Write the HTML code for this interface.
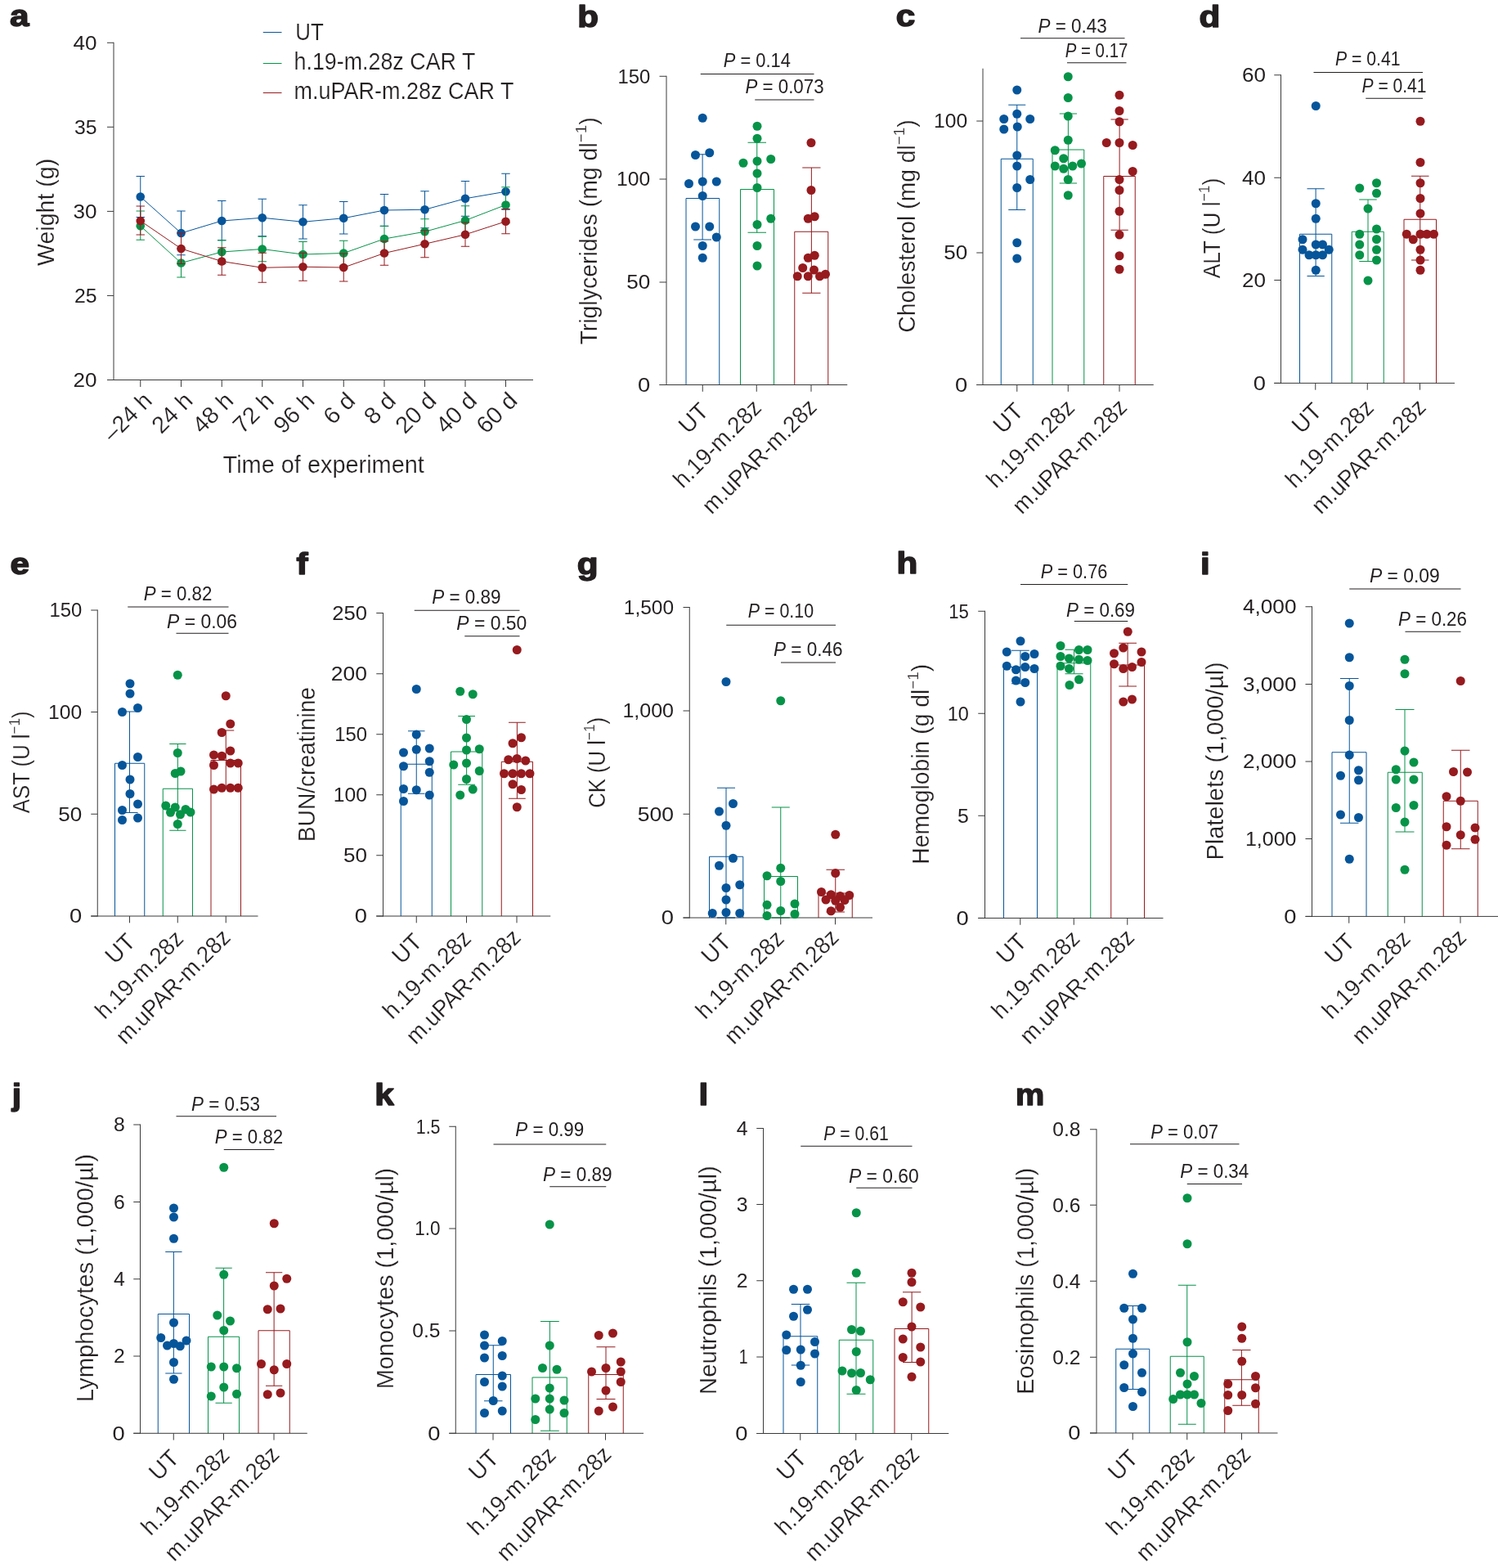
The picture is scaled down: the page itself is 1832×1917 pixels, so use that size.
<!DOCTYPE html>
<html lang="en">
<head>
<meta charset="utf-8">
<title>Figure</title>
<style>
html,body{margin:0;padding:0;background:#fff;}
body{width:1832px;height:1917px;overflow:hidden;}
svg{display:block;font-family:"Liberation Sans", sans-serif;fill:#231f20;}
svg text{white-space:pre;}
svg text.t{stroke:#fff;stroke-width:0.22px;paint-order:fill stroke;}
</style>
</head>
<body>
<svg width="1832" height="1917" viewBox="0 0 1832 1917">
<rect x="0" y="0" width="1832" height="1917" fill="#ffffff"/>
<line x1="171.75" y1="215.5" x2="171.75" y2="265.5" stroke="#06559a" stroke-width="1"/>
<line x1="166.55" y1="215.5" x2="176.95" y2="215.5" stroke="#06559a" stroke-width="1"/>
<line x1="166.55" y1="265.5" x2="176.95" y2="265.5" stroke="#06559a" stroke-width="1"/>
<line x1="221.5" y1="258" x2="221.5" y2="311.75" stroke="#06559a" stroke-width="1"/>
<line x1="216.3" y1="258" x2="226.7" y2="258" stroke="#06559a" stroke-width="1"/>
<line x1="216.3" y1="311.75" x2="226.7" y2="311.75" stroke="#06559a" stroke-width="1"/>
<line x1="271.25" y1="245.5" x2="271.25" y2="293.75" stroke="#06559a" stroke-width="1"/>
<line x1="266.05" y1="245.5" x2="276.45" y2="245.5" stroke="#06559a" stroke-width="1"/>
<line x1="266.05" y1="293.75" x2="276.45" y2="293.75" stroke="#06559a" stroke-width="1"/>
<line x1="320.75" y1="243.25" x2="320.75" y2="288.75" stroke="#06559a" stroke-width="1"/>
<line x1="315.55" y1="243.25" x2="325.95" y2="243.25" stroke="#06559a" stroke-width="1"/>
<line x1="315.55" y1="288.75" x2="325.95" y2="288.75" stroke="#06559a" stroke-width="1"/>
<line x1="370.5" y1="250.75" x2="370.5" y2="292" stroke="#06559a" stroke-width="1"/>
<line x1="365.3" y1="250.75" x2="375.7" y2="250.75" stroke="#06559a" stroke-width="1"/>
<line x1="365.3" y1="292" x2="375.7" y2="292" stroke="#06559a" stroke-width="1"/>
<line x1="420.25" y1="246.5" x2="420.25" y2="286" stroke="#06559a" stroke-width="1"/>
<line x1="415.05" y1="246.5" x2="425.45" y2="246.5" stroke="#06559a" stroke-width="1"/>
<line x1="415.05" y1="286" x2="425.45" y2="286" stroke="#06559a" stroke-width="1"/>
<line x1="470" y1="237.5" x2="470" y2="276.5" stroke="#06559a" stroke-width="1"/>
<line x1="464.8" y1="237.5" x2="475.2" y2="237.5" stroke="#06559a" stroke-width="1"/>
<line x1="464.8" y1="276.5" x2="475.2" y2="276.5" stroke="#06559a" stroke-width="1"/>
<line x1="519.5" y1="233.75" x2="519.5" y2="278.75" stroke="#06559a" stroke-width="1"/>
<line x1="514.3" y1="233.75" x2="524.7" y2="233.75" stroke="#06559a" stroke-width="1"/>
<line x1="514.3" y1="278.75" x2="524.7" y2="278.75" stroke="#06559a" stroke-width="1"/>
<line x1="569" y1="221.5" x2="569" y2="264.25" stroke="#06559a" stroke-width="1"/>
<line x1="563.8" y1="221.5" x2="574.2" y2="221.5" stroke="#06559a" stroke-width="1"/>
<line x1="563.8" y1="264.25" x2="574.2" y2="264.25" stroke="#06559a" stroke-width="1"/>
<line x1="618.5" y1="212.25" x2="618.5" y2="256.25" stroke="#06559a" stroke-width="1"/>
<line x1="613.3" y1="212.25" x2="623.7" y2="212.25" stroke="#06559a" stroke-width="1"/>
<line x1="613.3" y1="256.25" x2="623.7" y2="256.25" stroke="#06559a" stroke-width="1"/>
<polyline points="171.75,240.5 221.5,285 271.25,270 320.75,266.25 370.5,271.25 420.25,266.75 470,257 519.5,256.25 569,242.75 618.5,234.25" fill="none" stroke="#06559a" stroke-width="1"/>
<circle cx="171.75" cy="240.5" r="5.3" fill="#06559a"/>
<circle cx="221.5" cy="285" r="5.3" fill="#06559a"/>
<circle cx="271.25" cy="270" r="5.3" fill="#06559a"/>
<circle cx="320.75" cy="266.25" r="5.3" fill="#06559a"/>
<circle cx="370.5" cy="271.25" r="5.3" fill="#06559a"/>
<circle cx="420.25" cy="266.75" r="5.3" fill="#06559a"/>
<circle cx="470" cy="257" r="5.3" fill="#06559a"/>
<circle cx="519.5" cy="256.25" r="5.3" fill="#06559a"/>
<circle cx="569" cy="242.75" r="5.3" fill="#06559a"/>
<circle cx="618.5" cy="234.25" r="5.3" fill="#06559a"/>
<line x1="171.75" y1="258" x2="171.75" y2="293.25" stroke="#069348" stroke-width="1"/>
<line x1="166.55" y1="258" x2="176.95" y2="258" stroke="#069348" stroke-width="1"/>
<line x1="166.55" y1="293.25" x2="176.95" y2="293.25" stroke="#069348" stroke-width="1"/>
<line x1="221.5" y1="303.75" x2="221.5" y2="339" stroke="#069348" stroke-width="1"/>
<line x1="216.3" y1="303.75" x2="226.7" y2="303.75" stroke="#069348" stroke-width="1"/>
<line x1="216.3" y1="339" x2="226.7" y2="339" stroke="#069348" stroke-width="1"/>
<line x1="271.25" y1="293.75" x2="271.25" y2="322.5" stroke="#069348" stroke-width="1"/>
<line x1="266.05" y1="293.75" x2="276.45" y2="293.75" stroke="#069348" stroke-width="1"/>
<line x1="266.05" y1="322.5" x2="276.45" y2="322.5" stroke="#069348" stroke-width="1"/>
<line x1="320.75" y1="289.25" x2="320.75" y2="319.75" stroke="#069348" stroke-width="1"/>
<line x1="315.55" y1="289.25" x2="325.95" y2="289.25" stroke="#069348" stroke-width="1"/>
<line x1="315.55" y1="319.75" x2="325.95" y2="319.75" stroke="#069348" stroke-width="1"/>
<line x1="370.5" y1="295.5" x2="370.5" y2="326.25" stroke="#069348" stroke-width="1"/>
<line x1="365.3" y1="295.5" x2="375.7" y2="295.5" stroke="#069348" stroke-width="1"/>
<line x1="365.3" y1="326.25" x2="375.7" y2="326.25" stroke="#069348" stroke-width="1"/>
<line x1="420.25" y1="294.25" x2="420.25" y2="325" stroke="#069348" stroke-width="1"/>
<line x1="415.05" y1="294.25" x2="425.45" y2="294.25" stroke="#069348" stroke-width="1"/>
<line x1="415.05" y1="325" x2="425.45" y2="325" stroke="#069348" stroke-width="1"/>
<line x1="470" y1="276.25" x2="470" y2="308" stroke="#069348" stroke-width="1"/>
<line x1="464.8" y1="276.25" x2="475.2" y2="276.25" stroke="#069348" stroke-width="1"/>
<line x1="464.8" y1="308" x2="475.2" y2="308" stroke="#069348" stroke-width="1"/>
<line x1="519.5" y1="267.75" x2="519.5" y2="298.75" stroke="#069348" stroke-width="1"/>
<line x1="514.3" y1="267.75" x2="524.7" y2="267.75" stroke="#069348" stroke-width="1"/>
<line x1="514.3" y1="298.75" x2="524.7" y2="298.75" stroke="#069348" stroke-width="1"/>
<line x1="569" y1="251.75" x2="569" y2="287.5" stroke="#069348" stroke-width="1"/>
<line x1="563.8" y1="251.75" x2="574.2" y2="251.75" stroke="#069348" stroke-width="1"/>
<line x1="563.8" y1="287.5" x2="574.2" y2="287.5" stroke="#069348" stroke-width="1"/>
<line x1="618.5" y1="228.75" x2="618.5" y2="272.5" stroke="#069348" stroke-width="1"/>
<line x1="613.3" y1="228.75" x2="623.7" y2="228.75" stroke="#069348" stroke-width="1"/>
<line x1="613.3" y1="272.5" x2="623.7" y2="272.5" stroke="#069348" stroke-width="1"/>
<polyline points="171.75,276.25 221.5,321.5 271.25,308 320.75,304.5 370.5,311 420.25,309.5 470,292 519.5,283.25 569,269.5 618.5,250.5" fill="none" stroke="#069348" stroke-width="1"/>
<circle cx="171.75" cy="276.25" r="5.3" fill="#069348"/>
<circle cx="221.5" cy="321.5" r="5.3" fill="#069348"/>
<circle cx="271.25" cy="308" r="5.3" fill="#069348"/>
<circle cx="320.75" cy="304.5" r="5.3" fill="#069348"/>
<circle cx="370.5" cy="311" r="5.3" fill="#069348"/>
<circle cx="420.25" cy="309.5" r="5.3" fill="#069348"/>
<circle cx="470" cy="292" r="5.3" fill="#069348"/>
<circle cx="519.5" cy="283.25" r="5.3" fill="#069348"/>
<circle cx="569" cy="269.5" r="5.3" fill="#069348"/>
<circle cx="618.5" cy="250.5" r="5.3" fill="#069348"/>
<line x1="171.75" y1="252" x2="171.75" y2="287" stroke="#961a1e" stroke-width="1"/>
<line x1="166.55" y1="252" x2="176.95" y2="252" stroke="#961a1e" stroke-width="1"/>
<line x1="166.55" y1="287" x2="176.95" y2="287" stroke="#961a1e" stroke-width="1"/>
<line x1="221.5" y1="285" x2="221.5" y2="322.5" stroke="#961a1e" stroke-width="1"/>
<line x1="216.3" y1="285" x2="226.7" y2="285" stroke="#961a1e" stroke-width="1"/>
<line x1="216.3" y1="322.5" x2="226.7" y2="322.5" stroke="#961a1e" stroke-width="1"/>
<line x1="271.25" y1="302.75" x2="271.25" y2="336.25" stroke="#961a1e" stroke-width="1"/>
<line x1="266.05" y1="302.75" x2="276.45" y2="302.75" stroke="#961a1e" stroke-width="1"/>
<line x1="266.05" y1="336.25" x2="276.45" y2="336.25" stroke="#961a1e" stroke-width="1"/>
<line x1="320.75" y1="309.25" x2="320.75" y2="345.25" stroke="#961a1e" stroke-width="1"/>
<line x1="315.55" y1="309.25" x2="325.95" y2="309.25" stroke="#961a1e" stroke-width="1"/>
<line x1="315.55" y1="345.25" x2="325.95" y2="345.25" stroke="#961a1e" stroke-width="1"/>
<line x1="370.5" y1="309.25" x2="370.5" y2="343.25" stroke="#961a1e" stroke-width="1"/>
<line x1="365.3" y1="309.25" x2="375.7" y2="309.25" stroke="#961a1e" stroke-width="1"/>
<line x1="365.3" y1="343.25" x2="375.7" y2="343.25" stroke="#961a1e" stroke-width="1"/>
<line x1="420.25" y1="310" x2="420.25" y2="344" stroke="#961a1e" stroke-width="1"/>
<line x1="415.05" y1="310" x2="425.45" y2="310" stroke="#961a1e" stroke-width="1"/>
<line x1="415.05" y1="344" x2="425.45" y2="344" stroke="#961a1e" stroke-width="1"/>
<line x1="470" y1="295" x2="470" y2="324.25" stroke="#961a1e" stroke-width="1"/>
<line x1="464.8" y1="295" x2="475.2" y2="295" stroke="#961a1e" stroke-width="1"/>
<line x1="464.8" y1="324.25" x2="475.2" y2="324.25" stroke="#961a1e" stroke-width="1"/>
<line x1="519.5" y1="281.75" x2="519.5" y2="314.75" stroke="#961a1e" stroke-width="1"/>
<line x1="514.3" y1="281.75" x2="524.7" y2="281.75" stroke="#961a1e" stroke-width="1"/>
<line x1="514.3" y1="314.75" x2="524.7" y2="314.75" stroke="#961a1e" stroke-width="1"/>
<line x1="569" y1="272" x2="569" y2="301.25" stroke="#961a1e" stroke-width="1"/>
<line x1="563.8" y1="272" x2="574.2" y2="272" stroke="#961a1e" stroke-width="1"/>
<line x1="563.8" y1="301.25" x2="574.2" y2="301.25" stroke="#961a1e" stroke-width="1"/>
<line x1="618.5" y1="255.5" x2="618.5" y2="285.75" stroke="#961a1e" stroke-width="1"/>
<line x1="613.3" y1="255.5" x2="623.7" y2="255.5" stroke="#961a1e" stroke-width="1"/>
<line x1="613.3" y1="285.75" x2="623.7" y2="285.75" stroke="#961a1e" stroke-width="1"/>
<polyline points="171.75,270 221.5,304 271.25,319.5 320.75,327.25 370.5,326.25 420.25,327 470,309.5 519.5,298.25 569,286.75 618.5,270.75" fill="none" stroke="#961a1e" stroke-width="1"/>
<circle cx="171.75" cy="270" r="5.3" fill="#961a1e"/>
<circle cx="221.5" cy="304" r="5.3" fill="#961a1e"/>
<circle cx="271.25" cy="319.5" r="5.3" fill="#961a1e"/>
<circle cx="320.75" cy="327.25" r="5.3" fill="#961a1e"/>
<circle cx="370.5" cy="326.25" r="5.3" fill="#961a1e"/>
<circle cx="420.25" cy="327" r="5.3" fill="#961a1e"/>
<circle cx="470" cy="309.5" r="5.3" fill="#961a1e"/>
<circle cx="519.5" cy="298.25" r="5.3" fill="#961a1e"/>
<circle cx="569" cy="286.75" r="5.3" fill="#961a1e"/>
<circle cx="618.5" cy="270.75" r="5.3" fill="#961a1e"/>
<line x1="139" y1="51.75" x2="139" y2="465" stroke="#3a3a3a" stroke-width="1"/>
<line x1="131" y1="464.5" x2="652" y2="464.5" stroke="#3a3a3a" stroke-width="1"/>
<line x1="131" y1="52.25" x2="139" y2="52.25" stroke="#3a3a3a" stroke-width="1"/>
<text transform="translate(118.6 60.65) scale(1.0600 1)" font-size="24.6" text-anchor="end">40</text>
<line x1="131" y1="155.31" x2="139" y2="155.31" stroke="#3a3a3a" stroke-width="1"/>
<text transform="translate(118.6 163.71) scale(1.0088 1)" font-size="24.6" text-anchor="end">35</text>
<line x1="131" y1="258.38" x2="139" y2="258.38" stroke="#3a3a3a" stroke-width="1"/>
<text transform="translate(118.6 266.77) scale(1.0600 1)" font-size="24.6" text-anchor="end">30</text>
<line x1="131" y1="361.44" x2="139" y2="361.44" stroke="#3a3a3a" stroke-width="1"/>
<text transform="translate(118.6 369.84) scale(1.0088 1)" font-size="24.6" text-anchor="end">25</text>
<line x1="131" y1="464.5" x2="139" y2="464.5" stroke="#3a3a3a" stroke-width="1"/>
<text transform="translate(118.6 472.9) scale(1.0600 1)" font-size="24.6" text-anchor="end">20</text>
<line x1="171.75" y1="464.5" x2="171.75" y2="473" stroke="#3a3a3a" stroke-width="1"/>
<text transform="translate(187.55 491.6) rotate(-45) scale(0.9819 1)" font-size="28.7" text-anchor="end" class="t">–24 h</text>
<line x1="221.5" y1="464.5" x2="221.5" y2="473" stroke="#3a3a3a" stroke-width="1"/>
<text transform="translate(237.3 491.6) rotate(-45) scale(1.0118 1)" font-size="28.7" text-anchor="end" class="t">24 h</text>
<line x1="271.25" y1="464.5" x2="271.25" y2="473" stroke="#3a3a3a" stroke-width="1"/>
<text transform="translate(287.05 491.6) rotate(-45) scale(1.0118 1)" font-size="28.7" text-anchor="end" class="t">48 h</text>
<line x1="320.75" y1="464.5" x2="320.75" y2="473" stroke="#3a3a3a" stroke-width="1"/>
<text transform="translate(336.55 491.6) rotate(-45) scale(1.0118 1)" font-size="28.7" text-anchor="end" class="t">72 h</text>
<line x1="370.5" y1="464.5" x2="370.5" y2="473" stroke="#3a3a3a" stroke-width="1"/>
<text transform="translate(386.3 491.6) rotate(-45) scale(1.0118 1)" font-size="28.7" text-anchor="end" class="t">96 h</text>
<line x1="420.25" y1="464.5" x2="420.25" y2="473" stroke="#3a3a3a" stroke-width="1"/>
<text transform="translate(436.05 491.6) rotate(-45) scale(1.0278 1)" font-size="28.7" text-anchor="end" class="t">6 d</text>
<line x1="470" y1="464.5" x2="470" y2="473" stroke="#3a3a3a" stroke-width="1"/>
<text transform="translate(485.8 491.6) rotate(-45) scale(1.0278 1)" font-size="28.7" text-anchor="end" class="t">8 d</text>
<line x1="519.5" y1="464.5" x2="519.5" y2="473" stroke="#3a3a3a" stroke-width="1"/>
<text transform="translate(535.3 491.6) rotate(-45) scale(1.0118 1)" font-size="28.7" text-anchor="end" class="t">20 d</text>
<line x1="569" y1="464.5" x2="569" y2="473" stroke="#3a3a3a" stroke-width="1"/>
<text transform="translate(584.8 491.6) rotate(-45) scale(1.0118 1)" font-size="28.7" text-anchor="end" class="t">40 d</text>
<line x1="618.5" y1="464.5" x2="618.5" y2="473" stroke="#3a3a3a" stroke-width="1"/>
<text transform="translate(634.3 491.6) rotate(-45) scale(1.0118 1)" font-size="28.7" text-anchor="end" class="t">60 d</text>
<text transform="translate(66.25 259.4) rotate(-90) scale(0.9957 1)" font-size="28.7" text-anchor="middle" class="t">Weight (g)</text>
<text transform="translate(272.6 578.3) scale(1.0071 1)" font-size="28.7" text-anchor="start" class="t">Time of experiment</text>
<line x1="321.75" y1="39.5" x2="344.5" y2="39.5" stroke="#06559a" stroke-width="1"/>
<text transform="translate(361.3 49.3) scale(0.9020 1)" font-size="28.7" text-anchor="start" class="t">UT</text>
<line x1="321.75" y1="77.5" x2="344.5" y2="77.5" stroke="#069348" stroke-width="1"/>
<text transform="translate(359.5 84.5) scale(0.9357 1)" font-size="28.7" text-anchor="start" class="t">h.19-m.28z CAR T</text>
<line x1="321.75" y1="113.5" x2="344.5" y2="113.5" stroke="#961a1e" stroke-width="1"/>
<text transform="translate(359.5 120.7) scale(0.9410 1)" font-size="28.7" text-anchor="start" class="t">m.uPAR-m.28z CAR T</text>
<text transform="translate(11.9 31.9) scale(1.1400 1)" font-size="37" text-anchor="start" font-weight="700" stroke="#231f20" stroke-width="1.5" stroke-linejoin="round">a</text>
<polyline points="839,470.5 839,242.5 879.75,242.5 879.75,470.5" fill="none" stroke="#06559a" stroke-width="1"/>
<polyline points="905.5,470.5 905.5,231.5 946.5,231.5 946.5,470.5" fill="none" stroke="#069348" stroke-width="1"/>
<polyline points="971.75,470.5 971.75,283.25 1012.75,283.25 1012.75,470.5" fill="none" stroke="#961a1e" stroke-width="1"/>
<line x1="859.12" y1="188.75" x2="859.12" y2="293" stroke="#06559a" stroke-width="1"/>
<line x1="848.25" y1="188.75" x2="870" y2="188.75" stroke="#06559a" stroke-width="1"/>
<line x1="848.25" y1="293" x2="870" y2="293" stroke="#06559a" stroke-width="1"/>
<line x1="925.75" y1="174.25" x2="925.75" y2="284.25" stroke="#069348" stroke-width="1"/>
<line x1="914.5" y1="174.25" x2="937" y2="174.25" stroke="#069348" stroke-width="1"/>
<line x1="914.5" y1="284.25" x2="937" y2="284.25" stroke="#069348" stroke-width="1"/>
<line x1="992.38" y1="205" x2="992.38" y2="358.25" stroke="#961a1e" stroke-width="1"/>
<line x1="981.25" y1="205" x2="1003.5" y2="205" stroke="#961a1e" stroke-width="1"/>
<line x1="981.25" y1="358.25" x2="1003.5" y2="358.25" stroke="#961a1e" stroke-width="1"/>
<line x1="815" y1="92.75" x2="815" y2="471" stroke="#3a3a3a" stroke-width="1"/>
<line x1="806.5" y1="470.5" x2="1036.25" y2="470.5" stroke="#3a3a3a" stroke-width="1"/>
<line x1="806.5" y1="93.25" x2="815" y2="93.25" stroke="#3a3a3a" stroke-width="1"/>
<line x1="806.5" y1="219" x2="815" y2="219" stroke="#3a3a3a" stroke-width="1"/>
<line x1="806.5" y1="345" x2="815" y2="345" stroke="#3a3a3a" stroke-width="1"/>
<line x1="806.5" y1="470.5" x2="815" y2="470.5" stroke="#3a3a3a" stroke-width="1"/>
<line x1="859.25" y1="470.5" x2="859.25" y2="478.8" stroke="#3a3a3a" stroke-width="1"/>
<line x1="925.25" y1="470.5" x2="925.25" y2="478.8" stroke="#3a3a3a" stroke-width="1"/>
<line x1="992" y1="470.5" x2="992" y2="478.8" stroke="#3a3a3a" stroke-width="1"/>
<circle cx="859.25" cy="144.25" r="5.5" fill="#06559a"/>
<circle cx="850.5" cy="189.5" r="5.5" fill="#06559a"/>
<circle cx="867.75" cy="186.75" r="5.5" fill="#06559a"/>
<circle cx="842.5" cy="224.5" r="5.5" fill="#06559a"/>
<circle cx="859.25" cy="222" r="5.5" fill="#06559a"/>
<circle cx="876.25" cy="222" r="5.5" fill="#06559a"/>
<circle cx="859.25" cy="239.5" r="5.5" fill="#06559a"/>
<circle cx="850.5" cy="277" r="5.5" fill="#06559a"/>
<circle cx="867.75" cy="277" r="5.5" fill="#06559a"/>
<circle cx="876.25" cy="290" r="5.5" fill="#06559a"/>
<circle cx="859.25" cy="300.5" r="5.5" fill="#06559a"/>
<circle cx="859.25" cy="315.25" r="5.5" fill="#06559a"/>
<circle cx="926" cy="154.25" r="5.5" fill="#069348"/>
<circle cx="926" cy="169.25" r="5.5" fill="#069348"/>
<circle cx="909" cy="199.25" r="5.5" fill="#069348"/>
<circle cx="926" cy="197" r="5.5" fill="#069348"/>
<circle cx="942.75" cy="194.5" r="5.5" fill="#069348"/>
<circle cx="926" cy="212" r="5.5" fill="#069348"/>
<circle cx="926" cy="229.5" r="5.5" fill="#069348"/>
<circle cx="942.75" cy="267.25" r="5.5" fill="#069348"/>
<circle cx="926" cy="274.5" r="5.5" fill="#069348"/>
<circle cx="926" cy="300.5" r="5.5" fill="#069348"/>
<circle cx="926" cy="325" r="5.5" fill="#069348"/>
<circle cx="992" cy="174.5" r="5.5" fill="#961a1e"/>
<circle cx="992" cy="232.5" r="5.5" fill="#961a1e"/>
<circle cx="988.25" cy="267.25" r="5.5" fill="#961a1e"/>
<circle cx="996.25" cy="264.75" r="5.5" fill="#961a1e"/>
<circle cx="988.25" cy="315.25" r="5.5" fill="#961a1e"/>
<circle cx="996.25" cy="312.25" r="5.5" fill="#961a1e"/>
<circle cx="981.75" cy="327.5" r="5.5" fill="#961a1e"/>
<circle cx="995.5" cy="330" r="5.5" fill="#961a1e"/>
<circle cx="975.25" cy="337.75" r="5.5" fill="#961a1e"/>
<circle cx="988.25" cy="337.75" r="5.5" fill="#961a1e"/>
<circle cx="1002.5" cy="337.75" r="5.5" fill="#961a1e"/>
<circle cx="1009.5" cy="335.25" r="5.5" fill="#961a1e"/>
<text transform="translate(795.25 101.55) scale(0.9696 1)" font-size="24.6" text-anchor="end">150</text>
<text transform="translate(795.25 227.3) scale(1.0037 1)" font-size="24.6" text-anchor="end">100</text>
<text transform="translate(795.25 353.3) scale(1.0600 1)" font-size="24.6" text-anchor="end">50</text>
<text transform="translate(795.25 478.8) scale(1.1105 1)" font-size="24.6" text-anchor="end">0</text>
<text transform="translate(868.5 504.4) rotate(-45)" font-size="28.7" text-anchor="end" class="t">UT</text>
<text transform="translate(932.85 500.15) rotate(-45) scale(0.9651 1)" font-size="28.7" text-anchor="end" class="t">h.19-m.28z</text>
<text transform="translate(1000.45 499.6) rotate(-45) scale(0.9565 1)" font-size="28.7" text-anchor="end" class="t">m.uPAR-m.28z</text>
<text transform="translate(884.75 81.65) scale(0.9306 1)" font-size="23.5" text-anchor="start"><tspan font-style="italic">P</tspan> = 0.14</text>
<line x1="856.75" y1="90.5" x2="995.5" y2="90.5" stroke="#231f20" stroke-width="1"/>
<text transform="translate(911.5 114.15) scale(0.9488 1)" font-size="23.5" text-anchor="start"><tspan font-style="italic">P</tspan> = 0.073</text>
<line x1="923.25" y1="122" x2="995.5" y2="122" stroke="#231f20" stroke-width="1"/>
<text transform="translate(730 282.42) rotate(-90) scale(0.9929 1)" font-size="28.7" text-anchor="middle" class="t">Triglycerides (mg dl<tspan dy="-12.6" font-size="19">−1</tspan><tspan dy="12.6">)</tspan></text>
<text transform="translate(706.15 33.15) scale(1.1400 1)" font-size="37" text-anchor="start" font-weight="700" stroke="#231f20" stroke-width="1.5" stroke-linejoin="round">b</text>
<polyline points="1224.25,470.5 1224.25,194.25 1263.25,194.25 1263.25,470.5" fill="none" stroke="#06559a" stroke-width="1"/>
<polyline points="1287,470.5 1287,183 1325.75,183 1325.75,470.5" fill="none" stroke="#069348" stroke-width="1"/>
<polyline points="1349.75,470.5 1349.75,215.5 1388.25,215.5 1388.25,470.5" fill="none" stroke="#961a1e" stroke-width="1"/>
<line x1="1243.75" y1="128.25" x2="1243.75" y2="256.5" stroke="#06559a" stroke-width="1"/>
<line x1="1233.25" y1="128.25" x2="1254.25" y2="128.25" stroke="#06559a" stroke-width="1"/>
<line x1="1233.25" y1="256.5" x2="1254.25" y2="256.5" stroke="#06559a" stroke-width="1"/>
<line x1="1306.38" y1="139" x2="1306.38" y2="224" stroke="#069348" stroke-width="1"/>
<line x1="1295.75" y1="139" x2="1317" y2="139" stroke="#069348" stroke-width="1"/>
<line x1="1295.75" y1="224" x2="1317" y2="224" stroke="#069348" stroke-width="1"/>
<line x1="1369.12" y1="146" x2="1369.12" y2="281.25" stroke="#961a1e" stroke-width="1"/>
<line x1="1358.5" y1="146" x2="1379.75" y2="146" stroke="#961a1e" stroke-width="1"/>
<line x1="1358.5" y1="281.25" x2="1379.75" y2="281.25" stroke="#961a1e" stroke-width="1"/>
<line x1="1202" y1="83.75" x2="1202" y2="471" stroke="#3a3a3a" stroke-width="1"/>
<line x1="1194.25" y1="470.5" x2="1410.75" y2="470.5" stroke="#3a3a3a" stroke-width="1"/>
<line x1="1194.25" y1="148" x2="1202" y2="148" stroke="#3a3a3a" stroke-width="1"/>
<line x1="1194.25" y1="309" x2="1202" y2="309" stroke="#3a3a3a" stroke-width="1"/>
<line x1="1194.25" y1="470.5" x2="1202" y2="470.5" stroke="#3a3a3a" stroke-width="1"/>
<line x1="1243.75" y1="470.5" x2="1243.75" y2="478.8" stroke="#3a3a3a" stroke-width="1"/>
<line x1="1306.25" y1="470.5" x2="1306.25" y2="478.8" stroke="#3a3a3a" stroke-width="1"/>
<line x1="1369" y1="470.5" x2="1369" y2="478.8" stroke="#3a3a3a" stroke-width="1"/>
<circle cx="1243.75" cy="110" r="5.5" fill="#06559a"/>
<circle cx="1243.75" cy="139.25" r="5.5" fill="#06559a"/>
<circle cx="1227.75" cy="145.5" r="5.5" fill="#06559a"/>
<circle cx="1259.75" cy="145.5" r="5.5" fill="#06559a"/>
<circle cx="1227.75" cy="158" r="5.5" fill="#06559a"/>
<circle cx="1244.25" cy="155" r="5.5" fill="#06559a"/>
<circle cx="1243.75" cy="190" r="5.5" fill="#06559a"/>
<circle cx="1243.75" cy="203" r="5.5" fill="#06559a"/>
<circle cx="1259.75" cy="219.5" r="5.5" fill="#06559a"/>
<circle cx="1243.75" cy="229.5" r="5.5" fill="#06559a"/>
<circle cx="1243.75" cy="296.75" r="5.5" fill="#06559a"/>
<circle cx="1243.75" cy="316" r="5.5" fill="#06559a"/>
<circle cx="1306.25" cy="93.75" r="5.5" fill="#069348"/>
<circle cx="1306.25" cy="119.5" r="5.5" fill="#069348"/>
<circle cx="1306.25" cy="142" r="5.5" fill="#069348"/>
<circle cx="1306.25" cy="171.25" r="5.5" fill="#069348"/>
<circle cx="1290.25" cy="183.75" r="5.5" fill="#069348"/>
<circle cx="1300.75" cy="193.75" r="5.5" fill="#069348"/>
<circle cx="1322.5" cy="200" r="5.5" fill="#069348"/>
<circle cx="1290.25" cy="203" r="5.5" fill="#069348"/>
<circle cx="1300.75" cy="206.25" r="5.5" fill="#069348"/>
<circle cx="1311.75" cy="203" r="5.5" fill="#069348"/>
<circle cx="1306.25" cy="219.5" r="5.5" fill="#069348"/>
<circle cx="1306.25" cy="238.75" r="5.5" fill="#069348"/>
<circle cx="1369" cy="116.25" r="5.5" fill="#961a1e"/>
<circle cx="1369" cy="135.5" r="5.5" fill="#961a1e"/>
<circle cx="1369" cy="148.75" r="5.5" fill="#961a1e"/>
<circle cx="1353.25" cy="174.5" r="5.5" fill="#961a1e"/>
<circle cx="1369" cy="174.5" r="5.5" fill="#961a1e"/>
<circle cx="1385.25" cy="177.5" r="5.5" fill="#961a1e"/>
<circle cx="1385.25" cy="209.5" r="5.5" fill="#961a1e"/>
<circle cx="1369" cy="219.5" r="5.5" fill="#961a1e"/>
<circle cx="1369" cy="232.5" r="5.5" fill="#961a1e"/>
<circle cx="1369" cy="258.25" r="5.5" fill="#961a1e"/>
<circle cx="1369" cy="287" r="5.5" fill="#961a1e"/>
<circle cx="1369" cy="312.75" r="5.5" fill="#961a1e"/>
<circle cx="1369" cy="329.25" r="5.5" fill="#961a1e"/>
<text transform="translate(1183.25 156.3) scale(1.0037 1)" font-size="24.6" text-anchor="end">100</text>
<text transform="translate(1183.25 317.3) scale(1.0600 1)" font-size="24.6" text-anchor="end">50</text>
<text transform="translate(1183.25 478.8) scale(1.1105 1)" font-size="24.6" text-anchor="end">0</text>
<text transform="translate(1253.4 504.4) rotate(-45)" font-size="28.7" text-anchor="end" class="t">UT</text>
<text transform="translate(1316.05 500.15) rotate(-45) scale(0.9651 1)" font-size="28.7" text-anchor="end" class="t">h.19-m.28z</text>
<text transform="translate(1379.95 499.6) rotate(-45) scale(0.9565 1)" font-size="28.7" text-anchor="end" class="t">m.uPAR-m.28z</text>
<text transform="translate(1269.5 39.65) scale(0.9561 1)" font-size="23.5" text-anchor="start"><tspan font-style="italic">P</tspan> = 0.43</text>
<line x1="1248" y1="46.75" x2="1375.5" y2="46.75" stroke="#231f20" stroke-width="1"/>
<text transform="translate(1302.75 70.4) scale(0.8683 1)" font-size="23.5" text-anchor="start"><tspan font-style="italic">P</tspan> = 0.17</text>
<line x1="1305" y1="76.75" x2="1377.5" y2="76.75" stroke="#231f20" stroke-width="1"/>
<text transform="translate(1118.75 276.55) rotate(-90) scale(0.9855 1)" font-size="28.7" text-anchor="middle" class="t">Cholesterol (mg dl<tspan dy="-12.6" font-size="19">−1</tspan><tspan dy="12.6">)</tspan></text>
<text transform="translate(1095.65 32.4) scale(1.1400 1)" font-size="37" text-anchor="start" font-weight="700" stroke="#231f20" stroke-width="1.5" stroke-linejoin="round">c</text>
<polyline points="1589.5,468.4 1589.5,286.25 1628.75,286.25 1628.75,468.4" fill="none" stroke="#06559a" stroke-width="1"/>
<polyline points="1653.25,468.4 1653.25,283.25 1692.25,283.25 1692.25,468.4" fill="none" stroke="#069348" stroke-width="1"/>
<polyline points="1717,468.4 1717,268.25 1756.5,268.25 1756.5,468.4" fill="none" stroke="#961a1e" stroke-width="1"/>
<line x1="1609.12" y1="230.75" x2="1609.12" y2="337.5" stroke="#06559a" stroke-width="1"/>
<line x1="1598.5" y1="230.75" x2="1619.75" y2="230.75" stroke="#06559a" stroke-width="1"/>
<line x1="1598.5" y1="337.5" x2="1619.75" y2="337.5" stroke="#06559a" stroke-width="1"/>
<line x1="1673" y1="244" x2="1673" y2="319.5" stroke="#069348" stroke-width="1"/>
<line x1="1662.25" y1="244" x2="1683.75" y2="244" stroke="#069348" stroke-width="1"/>
<line x1="1662.25" y1="319.5" x2="1683.75" y2="319.5" stroke="#069348" stroke-width="1"/>
<line x1="1736.75" y1="215.25" x2="1736.75" y2="318" stroke="#961a1e" stroke-width="1"/>
<line x1="1726" y1="215.25" x2="1747.5" y2="215.25" stroke="#961a1e" stroke-width="1"/>
<line x1="1726" y1="318" x2="1747.5" y2="318" stroke="#961a1e" stroke-width="1"/>
<line x1="1566.5" y1="91.25" x2="1566.5" y2="468.9" stroke="#3a3a3a" stroke-width="1"/>
<line x1="1558.25" y1="468.4" x2="1779" y2="468.4" stroke="#3a3a3a" stroke-width="1"/>
<line x1="1558.25" y1="91.75" x2="1566.5" y2="91.75" stroke="#3a3a3a" stroke-width="1"/>
<line x1="1558.25" y1="217.25" x2="1566.5" y2="217.25" stroke="#3a3a3a" stroke-width="1"/>
<line x1="1558.25" y1="342.5" x2="1566.5" y2="342.5" stroke="#3a3a3a" stroke-width="1"/>
<line x1="1558.25" y1="468.4" x2="1566.5" y2="468.4" stroke="#3a3a3a" stroke-width="1"/>
<line x1="1608.75" y1="468.4" x2="1608.75" y2="476.7" stroke="#3a3a3a" stroke-width="1"/>
<line x1="1672.25" y1="468.4" x2="1672.25" y2="476.7" stroke="#3a3a3a" stroke-width="1"/>
<line x1="1736.5" y1="468.4" x2="1736.5" y2="476.7" stroke="#3a3a3a" stroke-width="1"/>
<circle cx="1609.25" cy="129.5" r="5.5" fill="#06559a"/>
<circle cx="1609.25" cy="248.75" r="5.5" fill="#06559a"/>
<circle cx="1609.25" cy="267.25" r="5.5" fill="#06559a"/>
<circle cx="1593" cy="292.75" r="5.5" fill="#06559a"/>
<circle cx="1609.25" cy="299" r="5.5" fill="#06559a"/>
<circle cx="1617.5" cy="299" r="5.5" fill="#06559a"/>
<circle cx="1593" cy="305.25" r="5.5" fill="#06559a"/>
<circle cx="1625.25" cy="305.25" r="5.5" fill="#06559a"/>
<circle cx="1601" cy="311.75" r="5.5" fill="#06559a"/>
<circle cx="1609.25" cy="311.75" r="5.5" fill="#06559a"/>
<circle cx="1617.5" cy="311.75" r="5.5" fill="#06559a"/>
<circle cx="1609.25" cy="330.25" r="5.5" fill="#06559a"/>
<circle cx="1662.75" cy="230" r="5.5" fill="#069348"/>
<circle cx="1683.5" cy="223.75" r="5.5" fill="#069348"/>
<circle cx="1683.5" cy="236.25" r="5.5" fill="#069348"/>
<circle cx="1673" cy="255" r="5.5" fill="#069348"/>
<circle cx="1683.5" cy="280" r="5.5" fill="#069348"/>
<circle cx="1662.75" cy="286.25" r="5.5" fill="#069348"/>
<circle cx="1683.5" cy="292.5" r="5.5" fill="#069348"/>
<circle cx="1662.75" cy="299" r="5.5" fill="#069348"/>
<circle cx="1683.5" cy="305.25" r="5.5" fill="#069348"/>
<circle cx="1662.75" cy="311.75" r="5.5" fill="#069348"/>
<circle cx="1683.5" cy="318" r="5.5" fill="#069348"/>
<circle cx="1673" cy="343" r="5.5" fill="#069348"/>
<circle cx="1737" cy="148.25" r="5.5" fill="#961a1e"/>
<circle cx="1737" cy="198.5" r="5.5" fill="#961a1e"/>
<circle cx="1737" cy="223.75" r="5.5" fill="#961a1e"/>
<circle cx="1737" cy="242.5" r="5.5" fill="#961a1e"/>
<circle cx="1737" cy="261" r="5.5" fill="#961a1e"/>
<circle cx="1720.25" cy="286.25" r="5.5" fill="#961a1e"/>
<circle cx="1737" cy="286.25" r="5.5" fill="#961a1e"/>
<circle cx="1745" cy="286.25" r="5.5" fill="#961a1e"/>
<circle cx="1753.5" cy="286.25" r="5.5" fill="#961a1e"/>
<circle cx="1728.25" cy="292.75" r="5.5" fill="#961a1e"/>
<circle cx="1737" cy="305.25" r="5.5" fill="#961a1e"/>
<circle cx="1737" cy="318" r="5.5" fill="#961a1e"/>
<circle cx="1737" cy="330.25" r="5.5" fill="#961a1e"/>
<text transform="translate(1548 100.05) scale(1.0600 1)" font-size="24.6" text-anchor="end">60</text>
<text transform="translate(1548 225.55) scale(1.0600 1)" font-size="24.6" text-anchor="end">40</text>
<text transform="translate(1548 350.8) scale(1.0600 1)" font-size="24.6" text-anchor="end">20</text>
<text transform="translate(1548 476.7) scale(1.1105 1)" font-size="24.6" text-anchor="end">0</text>
<text transform="translate(1618.5 504.4) rotate(-45)" font-size="28.7" text-anchor="end" class="t">UT</text>
<text transform="translate(1681.75 500.15) rotate(-45) scale(0.9651 1)" font-size="28.7" text-anchor="end" class="t">h.19-m.28z</text>
<text transform="translate(1745.55 499.6) rotate(-45) scale(0.9565 1)" font-size="28.7" text-anchor="end" class="t">m.uPAR-m.28z</text>
<text transform="translate(1633 79.9) scale(0.9023 1)" font-size="23.5" text-anchor="start"><tspan font-style="italic">P</tspan> = 0.41</text>
<line x1="1606.5" y1="88.5" x2="1740" y2="88.5" stroke="#231f20" stroke-width="1"/>
<text transform="translate(1665.5 112.9) scale(0.8966 1)" font-size="23.5" text-anchor="start"><tspan font-style="italic">P</tspan> = 0.41</text>
<line x1="1670.25" y1="120.25" x2="1740" y2="120.25" stroke="#231f20" stroke-width="1"/>
<text transform="translate(1491.5 279.05) rotate(-90) scale(0.9171 1)" font-size="28.7" text-anchor="middle" class="t">ALT (U l<tspan dy="-12.6" font-size="19">−1</tspan><tspan dy="12.6">)</tspan></text>
<text transform="translate(1466.4 33.15) scale(1.1400 1)" font-size="37" text-anchor="start" font-weight="700" stroke="#231f20" stroke-width="1.5" stroke-linejoin="round">d</text>
<polyline points="140.5,1120 140.5,933.25 176.75,933.25 176.75,1120" fill="none" stroke="#06559a" stroke-width="1"/>
<polyline points="199.25,1120 199.25,964.25 235.5,964.25 235.5,1120" fill="none" stroke="#069348" stroke-width="1"/>
<polyline points="258,1120 258,929.5 294.5,929.5 294.5,1120" fill="none" stroke="#961a1e" stroke-width="1"/>
<line x1="158.5" y1="870" x2="158.5" y2="993.5" stroke="#06559a" stroke-width="1"/>
<line x1="148.5" y1="870" x2="168.5" y2="870" stroke="#06559a" stroke-width="1"/>
<line x1="148.5" y1="993.5" x2="168.5" y2="993.5" stroke="#06559a" stroke-width="1"/>
<line x1="217.38" y1="909.5" x2="217.38" y2="1015.25" stroke="#069348" stroke-width="1"/>
<line x1="207.25" y1="909.5" x2="227.5" y2="909.5" stroke="#069348" stroke-width="1"/>
<line x1="207.25" y1="1015.25" x2="227.5" y2="1015.25" stroke="#069348" stroke-width="1"/>
<line x1="276.25" y1="893" x2="276.25" y2="963.75" stroke="#961a1e" stroke-width="1"/>
<line x1="266.25" y1="893" x2="286.25" y2="893" stroke="#961a1e" stroke-width="1"/>
<line x1="266.25" y1="963.75" x2="286.25" y2="963.75" stroke="#961a1e" stroke-width="1"/>
<line x1="119.25" y1="745.5" x2="119.25" y2="1120.5" stroke="#3a3a3a" stroke-width="1"/>
<line x1="111.25" y1="1120" x2="315.5" y2="1120" stroke="#3a3a3a" stroke-width="1"/>
<line x1="111.25" y1="746" x2="119.25" y2="746" stroke="#3a3a3a" stroke-width="1"/>
<line x1="111.25" y1="870.5" x2="119.25" y2="870.5" stroke="#3a3a3a" stroke-width="1"/>
<line x1="111.25" y1="995.25" x2="119.25" y2="995.25" stroke="#3a3a3a" stroke-width="1"/>
<line x1="111.25" y1="1120" x2="119.25" y2="1120" stroke="#3a3a3a" stroke-width="1"/>
<line x1="158.5" y1="1120" x2="158.5" y2="1128.3" stroke="#3a3a3a" stroke-width="1"/>
<line x1="217.25" y1="1120" x2="217.25" y2="1128.3" stroke="#3a3a3a" stroke-width="1"/>
<line x1="276.25" y1="1120" x2="276.25" y2="1128.3" stroke="#3a3a3a" stroke-width="1"/>
<circle cx="159" cy="835.75" r="5.5" fill="#06559a"/>
<circle cx="159" cy="848" r="5.5" fill="#06559a"/>
<circle cx="168.5" cy="865.5" r="5.5" fill="#06559a"/>
<circle cx="149.5" cy="870.5" r="5.5" fill="#06559a"/>
<circle cx="168.5" cy="925.5" r="5.5" fill="#06559a"/>
<circle cx="149.5" cy="935.5" r="5.5" fill="#06559a"/>
<circle cx="159" cy="953" r="5.5" fill="#06559a"/>
<circle cx="159" cy="970.5" r="5.5" fill="#06559a"/>
<circle cx="168.5" cy="983" r="5.5" fill="#06559a"/>
<circle cx="149.5" cy="990.5" r="5.5" fill="#06559a"/>
<circle cx="149.5" cy="1002.5" r="5.5" fill="#06559a"/>
<circle cx="168.5" cy="1000" r="5.5" fill="#06559a"/>
<circle cx="217.25" cy="825.25" r="5.5" fill="#069348"/>
<circle cx="217.25" cy="920.5" r="5.5" fill="#069348"/>
<circle cx="214.25" cy="945.5" r="5.5" fill="#069348"/>
<circle cx="221" cy="943" r="5.5" fill="#069348"/>
<circle cx="202.75" cy="985" r="5.5" fill="#069348"/>
<circle cx="214.25" cy="987" r="5.5" fill="#069348"/>
<circle cx="227" cy="989.5" r="5.5" fill="#069348"/>
<circle cx="208.5" cy="993.25" r="5.5" fill="#069348"/>
<circle cx="233" cy="993" r="5.5" fill="#069348"/>
<circle cx="220.5" cy="995.75" r="5.5" fill="#069348"/>
<circle cx="217.25" cy="1007.5" r="5.5" fill="#069348"/>
<circle cx="276.25" cy="850.75" r="5.5" fill="#961a1e"/>
<circle cx="281.75" cy="885" r="5.5" fill="#961a1e"/>
<circle cx="271.25" cy="895.5" r="5.5" fill="#961a1e"/>
<circle cx="281.75" cy="918" r="5.5" fill="#961a1e"/>
<circle cx="261.5" cy="923" r="5.5" fill="#961a1e"/>
<circle cx="271.25" cy="924.25" r="5.5" fill="#961a1e"/>
<circle cx="261.5" cy="935.5" r="5.5" fill="#961a1e"/>
<circle cx="281.75" cy="933" r="5.5" fill="#961a1e"/>
<circle cx="291.25" cy="933" r="5.5" fill="#961a1e"/>
<circle cx="261.5" cy="965" r="5.5" fill="#961a1e"/>
<circle cx="271.25" cy="963.25" r="5.5" fill="#961a1e"/>
<circle cx="281.75" cy="963.25" r="5.5" fill="#961a1e"/>
<circle cx="291.25" cy="963.25" r="5.5" fill="#961a1e"/>
<text transform="translate(100.25 754.3) scale(0.9696 1)" font-size="24.6" text-anchor="end">150</text>
<text transform="translate(100.25 878.8) scale(1.0037 1)" font-size="24.6" text-anchor="end">100</text>
<text transform="translate(100.25 1003.55) scale(1.0600 1)" font-size="24.6" text-anchor="end">50</text>
<text transform="translate(100.25 1128.3) scale(1.1105 1)" font-size="24.6" text-anchor="end">0</text>
<text transform="translate(167.3 1153) rotate(-45)" font-size="28.7" text-anchor="end" class="t">UT</text>
<text transform="translate(226.05 1149.3) rotate(-45) scale(0.9651 1)" font-size="28.7" text-anchor="end" class="t">h.19-m.28z</text>
<text transform="translate(283.35 1147.8) rotate(-45) scale(0.9565 1)" font-size="28.7" text-anchor="end" class="t">m.uPAR-m.28z</text>
<text transform="translate(175.75 734.15) scale(0.9476 1)" font-size="23.5" text-anchor="start"><tspan font-style="italic">P</tspan> = 0.82</text>
<line x1="156.25" y1="742" x2="279.5" y2="742" stroke="#231f20" stroke-width="1"/>
<text transform="translate(204 767.9) scale(0.9760 1)" font-size="23.5" text-anchor="start"><tspan font-style="italic">P</tspan> = 0.06</text>
<line x1="215.5" y1="774.25" x2="279.5" y2="774.25" stroke="#231f20" stroke-width="1"/>
<text transform="translate(36.25 931.8) rotate(-90) scale(0.8965 1)" font-size="28.7" text-anchor="middle" class="t">AST (U l<tspan dy="-12.6" font-size="19">−1</tspan><tspan dy="12.6">)</tspan></text>
<text transform="translate(12.4 701.9) scale(1.1400 1)" font-size="37" text-anchor="start" font-weight="700" stroke="#231f20" stroke-width="1.5" stroke-linejoin="round">e</text>
<polyline points="490.25,1120 490.25,934.25 528.25,934.25 528.25,1120" fill="none" stroke="#06559a" stroke-width="1"/>
<polyline points="551.5,1120 551.5,919 589.75,919 589.75,1120" fill="none" stroke="#069348" stroke-width="1"/>
<polyline points="613.25,1120 613.25,931.25 651.5,931.25 651.5,1120" fill="none" stroke="#961a1e" stroke-width="1"/>
<line x1="509.25" y1="893.75" x2="509.25" y2="970.25" stroke="#06559a" stroke-width="1"/>
<line x1="499" y1="893.75" x2="519.5" y2="893.75" stroke="#06559a" stroke-width="1"/>
<line x1="499" y1="970.25" x2="519.5" y2="970.25" stroke="#06559a" stroke-width="1"/>
<line x1="570.62" y1="875.5" x2="570.62" y2="959.25" stroke="#069348" stroke-width="1"/>
<line x1="560.25" y1="875.5" x2="581" y2="875.5" stroke="#069348" stroke-width="1"/>
<line x1="560.25" y1="959.25" x2="581" y2="959.25" stroke="#069348" stroke-width="1"/>
<line x1="632.38" y1="883.25" x2="632.38" y2="976.25" stroke="#961a1e" stroke-width="1"/>
<line x1="622" y1="883.25" x2="642.75" y2="883.25" stroke="#961a1e" stroke-width="1"/>
<line x1="622" y1="976.25" x2="642.75" y2="976.25" stroke="#961a1e" stroke-width="1"/>
<line x1="468.5" y1="749" x2="468.5" y2="1120.5" stroke="#3a3a3a" stroke-width="1"/>
<line x1="460.25" y1="1120" x2="673.25" y2="1120" stroke="#3a3a3a" stroke-width="1"/>
<line x1="460.25" y1="749.5" x2="468.5" y2="749.5" stroke="#3a3a3a" stroke-width="1"/>
<line x1="460.25" y1="823.75" x2="468.5" y2="823.75" stroke="#3a3a3a" stroke-width="1"/>
<line x1="460.25" y1="897.75" x2="468.5" y2="897.75" stroke="#3a3a3a" stroke-width="1"/>
<line x1="460.25" y1="971.75" x2="468.5" y2="971.75" stroke="#3a3a3a" stroke-width="1"/>
<line x1="460.25" y1="1045.75" x2="468.5" y2="1045.75" stroke="#3a3a3a" stroke-width="1"/>
<line x1="460.25" y1="1120" x2="468.5" y2="1120" stroke="#3a3a3a" stroke-width="1"/>
<line x1="509.25" y1="1120" x2="509.25" y2="1128.3" stroke="#3a3a3a" stroke-width="1"/>
<line x1="570.5" y1="1120" x2="570.5" y2="1128.3" stroke="#3a3a3a" stroke-width="1"/>
<line x1="632" y1="1120" x2="632" y2="1128.3" stroke="#3a3a3a" stroke-width="1"/>
<circle cx="509.25" cy="842.5" r="5.5" fill="#06559a"/>
<circle cx="509.25" cy="898" r="5.5" fill="#06559a"/>
<circle cx="509.25" cy="916.25" r="5.5" fill="#06559a"/>
<circle cx="525.25" cy="915" r="5.5" fill="#06559a"/>
<circle cx="493.5" cy="920" r="5.5" fill="#06559a"/>
<circle cx="525.25" cy="930.75" r="5.5" fill="#06559a"/>
<circle cx="493.5" cy="936.75" r="5.5" fill="#06559a"/>
<circle cx="525.25" cy="944.25" r="5.5" fill="#06559a"/>
<circle cx="493.5" cy="964.5" r="5.5" fill="#06559a"/>
<circle cx="509.25" cy="965.75" r="5.5" fill="#06559a"/>
<circle cx="525.25" cy="972" r="5.5" fill="#06559a"/>
<circle cx="493.5" cy="979.5" r="5.5" fill="#06559a"/>
<circle cx="562.75" cy="845.25" r="5.5" fill="#069348"/>
<circle cx="578.25" cy="848.75" r="5.5" fill="#069348"/>
<circle cx="570.5" cy="879.5" r="5.5" fill="#069348"/>
<circle cx="570.5" cy="902" r="5.5" fill="#069348"/>
<circle cx="570.5" cy="917" r="5.5" fill="#069348"/>
<circle cx="586.25" cy="915.75" r="5.5" fill="#069348"/>
<circle cx="554.75" cy="935" r="5.5" fill="#069348"/>
<circle cx="570.5" cy="933" r="5.5" fill="#069348"/>
<circle cx="586.25" cy="942.5" r="5.5" fill="#069348"/>
<circle cx="570.5" cy="952.5" r="5.5" fill="#069348"/>
<circle cx="578.25" cy="965" r="5.5" fill="#069348"/>
<circle cx="562.75" cy="972" r="5.5" fill="#069348"/>
<circle cx="632.25" cy="794.5" r="5.5" fill="#961a1e"/>
<circle cx="637.5" cy="901.75" r="5.5" fill="#961a1e"/>
<circle cx="627" cy="908.75" r="5.5" fill="#961a1e"/>
<circle cx="621.75" cy="928.75" r="5.5" fill="#961a1e"/>
<circle cx="632.25" cy="927.5" r="5.5" fill="#961a1e"/>
<circle cx="642.75" cy="930" r="5.5" fill="#961a1e"/>
<circle cx="616.5" cy="945.75" r="5.5" fill="#961a1e"/>
<circle cx="627" cy="945.75" r="5.5" fill="#961a1e"/>
<circle cx="637.5" cy="945.75" r="5.5" fill="#961a1e"/>
<circle cx="648" cy="945.75" r="5.5" fill="#961a1e"/>
<circle cx="627" cy="958.75" r="5.5" fill="#961a1e"/>
<circle cx="637.5" cy="965.5" r="5.5" fill="#961a1e"/>
<circle cx="632.25" cy="986.75" r="5.5" fill="#961a1e"/>
<text transform="translate(449 757.8) scale(1.0427 1)" font-size="24.6" text-anchor="end">250</text>
<text transform="translate(449 832.05) scale(1.0768 1)" font-size="24.6" text-anchor="end">200</text>
<text transform="translate(449 906.05) scale(0.9696 1)" font-size="24.6" text-anchor="end">150</text>
<text transform="translate(449 980.05) scale(1.0037 1)" font-size="24.6" text-anchor="end">100</text>
<text transform="translate(449 1054.05) scale(1.0600 1)" font-size="24.6" text-anchor="end">50</text>
<text transform="translate(449 1128.3) scale(1.1105 1)" font-size="24.6" text-anchor="end">0</text>
<text transform="translate(518.1 1153) rotate(-45)" font-size="28.7" text-anchor="end" class="t">UT</text>
<text transform="translate(577.75 1149.3) rotate(-45) scale(0.9651 1)" font-size="28.7" text-anchor="end" class="t">h.19-m.28z</text>
<text transform="translate(638.35 1147.8) rotate(-45) scale(0.9565 1)" font-size="28.7" text-anchor="end" class="t">m.uPAR-m.28z</text>
<text transform="translate(528.25 738.4) scale(0.9561 1)" font-size="23.5" text-anchor="start"><tspan font-style="italic">P</tspan> = 0.89</text>
<line x1="506.75" y1="746.25" x2="635.5" y2="746.25" stroke="#231f20" stroke-width="1"/>
<text transform="translate(558.25 770.4) scale(0.9760 1)" font-size="23.5" text-anchor="start"><tspan font-style="italic">P</tspan> = 0.50</text>
<line x1="568.25" y1="777.75" x2="635.5" y2="777.75" stroke="#231f20" stroke-width="1"/>
<text transform="translate(384.5 934.58) rotate(-90) scale(0.9804 1)" font-size="28.7" text-anchor="middle" class="t">BUN/creatinine</text>
<text transform="translate(362.4 701.9) scale(1.1400 1)" font-size="37" text-anchor="start" font-weight="700" stroke="#231f20" stroke-width="1.5" stroke-linejoin="round">f</text>
<polyline points="867.5,1122 867.5,1047.25 908.75,1047.25 908.75,1122" fill="none" stroke="#06559a" stroke-width="1"/>
<polyline points="934.5,1122 934.5,1071.5 975.5,1071.5 975.5,1122" fill="none" stroke="#069348" stroke-width="1"/>
<polyline points="1001,1122 1001,1092 1042.25,1092 1042.25,1122" fill="none" stroke="#961a1e" stroke-width="1"/>
<line x1="888" y1="963.25" x2="888" y2="1122" stroke="#06559a" stroke-width="1"/>
<line x1="877" y1="963.25" x2="899" y2="963.25" stroke="#06559a" stroke-width="1"/>
<line x1="877" y1="1122" x2="899" y2="1122" stroke="#06559a" stroke-width="1"/>
<line x1="954.75" y1="987" x2="954.75" y2="1122" stroke="#069348" stroke-width="1"/>
<line x1="943.75" y1="987" x2="965.75" y2="987" stroke="#069348" stroke-width="1"/>
<line x1="943.75" y1="1122" x2="965.75" y2="1122" stroke="#069348" stroke-width="1"/>
<line x1="1021.75" y1="1063.25" x2="1021.75" y2="1115" stroke="#961a1e" stroke-width="1"/>
<line x1="1010.5" y1="1063.25" x2="1033" y2="1063.25" stroke="#961a1e" stroke-width="1"/>
<line x1="1010.5" y1="1115" x2="1033" y2="1115" stroke="#961a1e" stroke-width="1"/>
<line x1="843.25" y1="742" x2="843.25" y2="1122.5" stroke="#3a3a3a" stroke-width="1"/>
<line x1="835.5" y1="1122" x2="1067" y2="1122" stroke="#3a3a3a" stroke-width="1"/>
<line x1="835.5" y1="742.5" x2="843.25" y2="742.5" stroke="#3a3a3a" stroke-width="1"/>
<line x1="835.5" y1="869" x2="843.25" y2="869" stroke="#3a3a3a" stroke-width="1"/>
<line x1="835.5" y1="995.25" x2="843.25" y2="995.25" stroke="#3a3a3a" stroke-width="1"/>
<line x1="835.5" y1="1122" x2="843.25" y2="1122" stroke="#3a3a3a" stroke-width="1"/>
<line x1="887.75" y1="1122" x2="887.75" y2="1130.3" stroke="#3a3a3a" stroke-width="1"/>
<line x1="954.75" y1="1122" x2="954.75" y2="1130.3" stroke="#3a3a3a" stroke-width="1"/>
<line x1="1021.5" y1="1122" x2="1021.5" y2="1130.3" stroke="#3a3a3a" stroke-width="1"/>
<line x1="877" y1="1122" x2="899" y2="1122" stroke="#06559a" stroke-width="1" stroke-opacity="0.5"/>
<line x1="943.75" y1="1122" x2="965.75" y2="1122" stroke="#069348" stroke-width="1" stroke-opacity="0.5"/>
<circle cx="888" cy="833.5" r="5.5" fill="#06559a"/>
<circle cx="896.5" cy="982.5" r="5.5" fill="#06559a"/>
<circle cx="879.5" cy="992" r="5.5" fill="#06559a"/>
<circle cx="888" cy="1009.25" r="5.5" fill="#06559a"/>
<circle cx="896.5" cy="1049.25" r="5.5" fill="#06559a"/>
<circle cx="879.5" cy="1058.25" r="5.5" fill="#06559a"/>
<circle cx="904.75" cy="1081.75" r="5.5" fill="#06559a"/>
<circle cx="888" cy="1085.5" r="5.5" fill="#06559a"/>
<circle cx="888" cy="1100" r="5.5" fill="#06559a"/>
<circle cx="871.25" cy="1116.5" r="5.5" fill="#06559a"/>
<circle cx="888" cy="1115.5" r="5.5" fill="#06559a"/>
<circle cx="904.75" cy="1116.5" r="5.5" fill="#06559a"/>
<circle cx="954.75" cy="856.75" r="5.5" fill="#069348"/>
<circle cx="954.75" cy="1061.25" r="5.5" fill="#069348"/>
<circle cx="938" cy="1070.75" r="5.5" fill="#069348"/>
<circle cx="954.75" cy="1077.5" r="5.5" fill="#069348"/>
<circle cx="938" cy="1106.25" r="5.5" fill="#069348"/>
<circle cx="972" cy="1105" r="5.5" fill="#069348"/>
<circle cx="954.75" cy="1113.5" r="5.5" fill="#069348"/>
<circle cx="972" cy="1117.5" r="5.5" fill="#069348"/>
<circle cx="938" cy="1119.5" r="5.5" fill="#069348"/>
<circle cx="1021.75" cy="1020.25" r="5.5" fill="#961a1e"/>
<circle cx="1021.75" cy="1067.5" r="5.5" fill="#961a1e"/>
<circle cx="1004.5" cy="1090.5" r="5.5" fill="#961a1e"/>
<circle cx="1016.25" cy="1093.75" r="5.5" fill="#961a1e"/>
<circle cx="1027.5" cy="1095.5" r="5.5" fill="#961a1e"/>
<circle cx="1038.75" cy="1094.5" r="5.5" fill="#961a1e"/>
<circle cx="1010" cy="1100" r="5.5" fill="#961a1e"/>
<circle cx="1021.75" cy="1101.25" r="5.5" fill="#961a1e"/>
<circle cx="1033" cy="1100.5" r="5.5" fill="#961a1e"/>
<circle cx="1027.5" cy="1109.25" r="5.5" fill="#961a1e"/>
<circle cx="1016.25" cy="1113.75" r="5.5" fill="#961a1e"/>
<text transform="translate(824 750.8) scale(0.9944 1)" font-size="24.6" text-anchor="end">1,500</text>
<text transform="translate(824 877.3) scale(1.0171 1)" font-size="24.6" text-anchor="end">1,000</text>
<text transform="translate(824 1003.55) scale(1.0768 1)" font-size="24.6" text-anchor="end">500</text>
<text transform="translate(824 1130.3) scale(1.1105 1)" font-size="24.6" text-anchor="end">0</text>
<text transform="translate(896.2 1153) rotate(-45)" font-size="28.7" text-anchor="end" class="t">UT</text>
<text transform="translate(960.45 1149.3) rotate(-45) scale(0.9651 1)" font-size="28.7" text-anchor="end" class="t">h.19-m.28z</text>
<text transform="translate(1027.55 1147.8) rotate(-45) scale(0.9565 1)" font-size="28.7" text-anchor="end" class="t">m.uPAR-m.28z</text>
<text transform="translate(914.75 755.4) scale(0.9108 1)" font-size="23.5" text-anchor="start"><tspan font-style="italic">P</tspan> = 0.10</text>
<line x1="888.25" y1="764.25" x2="1022" y2="764.25" stroke="#231f20" stroke-width="1"/>
<text transform="translate(946 801.65) scale(0.9590 1)" font-size="23.5" text-anchor="start"><tspan font-style="italic">P</tspan> = 0.46</text>
<line x1="955" y1="810" x2="1022" y2="810" stroke="#231f20" stroke-width="1"/>
<text transform="translate(740 932.42) rotate(-90) scale(0.8971 1)" font-size="28.7" text-anchor="middle" class="t">CK (U l<tspan dy="-12.6" font-size="19">−1</tspan><tspan dy="12.6">)</tspan></text>
<text transform="translate(705.65 701.9) scale(1.1400 1)" font-size="37" text-anchor="start" font-weight="700" stroke="#231f20" stroke-width="1.5" stroke-linejoin="round">g</text>
<polyline points="1227.5,1122.45 1227.5,815.5 1268.5,815.5 1268.5,1122.45" fill="none" stroke="#06559a" stroke-width="1"/>
<polyline points="1293,1122.45 1293,810.75 1333.75,810.75 1333.75,1122.45" fill="none" stroke="#069348" stroke-width="1"/>
<polyline points="1358.75,1122.45 1358.75,813 1399.5,813 1399.5,1122.45" fill="none" stroke="#961a1e" stroke-width="1"/>
<line x1="1247.88" y1="795.25" x2="1247.88" y2="835.75" stroke="#06559a" stroke-width="1"/>
<line x1="1237" y1="795.25" x2="1258.75" y2="795.25" stroke="#06559a" stroke-width="1"/>
<line x1="1237" y1="835.75" x2="1258.75" y2="835.75" stroke="#06559a" stroke-width="1"/>
<line x1="1313.5" y1="794.25" x2="1313.5" y2="823.75" stroke="#069348" stroke-width="1"/>
<line x1="1302.5" y1="794.25" x2="1324.5" y2="794.25" stroke="#069348" stroke-width="1"/>
<line x1="1302.5" y1="823.75" x2="1324.5" y2="823.75" stroke="#069348" stroke-width="1"/>
<line x1="1379.12" y1="786.25" x2="1379.12" y2="839" stroke="#961a1e" stroke-width="1"/>
<line x1="1368.25" y1="786.25" x2="1390" y2="786.25" stroke="#961a1e" stroke-width="1"/>
<line x1="1368.25" y1="839" x2="1390" y2="839" stroke="#961a1e" stroke-width="1"/>
<line x1="1204.5" y1="746.75" x2="1204.5" y2="1122.95" stroke="#3a3a3a" stroke-width="1"/>
<line x1="1196.25" y1="1122.45" x2="1422.5" y2="1122.45" stroke="#3a3a3a" stroke-width="1"/>
<line x1="1196.25" y1="747.25" x2="1204.5" y2="747.25" stroke="#3a3a3a" stroke-width="1"/>
<line x1="1196.25" y1="872.25" x2="1204.5" y2="872.25" stroke="#3a3a3a" stroke-width="1"/>
<line x1="1196.25" y1="997.25" x2="1204.5" y2="997.25" stroke="#3a3a3a" stroke-width="1"/>
<line x1="1196.25" y1="1122.45" x2="1204.5" y2="1122.45" stroke="#3a3a3a" stroke-width="1"/>
<line x1="1247.75" y1="1122.45" x2="1247.75" y2="1130.75" stroke="#3a3a3a" stroke-width="1"/>
<line x1="1313.25" y1="1122.45" x2="1313.25" y2="1130.75" stroke="#3a3a3a" stroke-width="1"/>
<line x1="1378.75" y1="1122.45" x2="1378.75" y2="1130.75" stroke="#3a3a3a" stroke-width="1"/>
<circle cx="1248" cy="783.75" r="5.5" fill="#06559a"/>
<circle cx="1231.25" cy="797" r="5.5" fill="#06559a"/>
<circle cx="1265" cy="799.5" r="5.5" fill="#06559a"/>
<circle cx="1253.75" cy="802.5" r="5.5" fill="#06559a"/>
<circle cx="1231.25" cy="814.25" r="5.5" fill="#06559a"/>
<circle cx="1242.5" cy="818.75" r="5.5" fill="#06559a"/>
<circle cx="1253.75" cy="815.5" r="5.5" fill="#06559a"/>
<circle cx="1265" cy="817.5" r="5.5" fill="#06559a"/>
<circle cx="1242.5" cy="832" r="5.5" fill="#06559a"/>
<circle cx="1253.75" cy="834.5" r="5.5" fill="#06559a"/>
<circle cx="1248" cy="858" r="5.5" fill="#06559a"/>
<circle cx="1297" cy="789.5" r="5.5" fill="#069348"/>
<circle cx="1319.5" cy="794.5" r="5.5" fill="#069348"/>
<circle cx="1330" cy="794.5" r="5.5" fill="#069348"/>
<circle cx="1297" cy="802.5" r="5.5" fill="#069348"/>
<circle cx="1307.5" cy="805" r="5.5" fill="#069348"/>
<circle cx="1319.5" cy="806.25" r="5.5" fill="#069348"/>
<circle cx="1330" cy="807.5" r="5.5" fill="#069348"/>
<circle cx="1297" cy="814.25" r="5.5" fill="#069348"/>
<circle cx="1307.5" cy="817.5" r="5.5" fill="#069348"/>
<circle cx="1319.5" cy="830.75" r="5.5" fill="#069348"/>
<circle cx="1308" cy="837.5" r="5.5" fill="#069348"/>
<circle cx="1379.25" cy="772.25" r="5.5" fill="#961a1e"/>
<circle cx="1373.75" cy="792" r="5.5" fill="#961a1e"/>
<circle cx="1362.5" cy="798.75" r="5.5" fill="#961a1e"/>
<circle cx="1396" cy="797" r="5.5" fill="#961a1e"/>
<circle cx="1362.5" cy="811.75" r="5.5" fill="#961a1e"/>
<circle cx="1396" cy="809.5" r="5.5" fill="#961a1e"/>
<circle cx="1373.75" cy="817.5" r="5.5" fill="#961a1e"/>
<circle cx="1384.5" cy="815.5" r="5.5" fill="#961a1e"/>
<circle cx="1373.75" cy="858" r="5.5" fill="#961a1e"/>
<circle cx="1384.5" cy="855" r="5.5" fill="#961a1e"/>
<text transform="translate(1184.75 755.55) scale(0.8991 1)" font-size="24.6" text-anchor="end">15</text>
<text transform="translate(1184.75 880.55) scale(0.9503 1)" font-size="24.6" text-anchor="end">10</text>
<text transform="translate(1184.75 1005.55) scale(1.0082 1)" font-size="24.6" text-anchor="end">5</text>
<text transform="translate(1184.75 1130.75) scale(1.1105 1)" font-size="24.6" text-anchor="end">0</text>
<text transform="translate(1257.4 1153) rotate(-45)" font-size="28.7" text-anchor="end" class="t">UT</text>
<text transform="translate(1322.25 1149.3) rotate(-45) scale(0.9651 1)" font-size="28.7" text-anchor="end" class="t">h.19-m.28z</text>
<text transform="translate(1388.85 1147.8) rotate(-45) scale(0.9565 1)" font-size="28.7" text-anchor="end" class="t">m.uPAR-m.28z</text>
<text transform="translate(1272.75 707.4) scale(0.9250 1)" font-size="23.5" text-anchor="start"><tspan font-style="italic">P</tspan> = 0.76</text>
<line x1="1248" y1="714.5" x2="1379.25" y2="714.5" stroke="#231f20" stroke-width="1"/>
<text transform="translate(1304 754.15) scale(0.9533 1)" font-size="23.5" text-anchor="start"><tspan font-style="italic">P</tspan> = 0.69</text>
<line x1="1313.75" y1="759.5" x2="1379.25" y2="759.5" stroke="#231f20" stroke-width="1"/>
<text transform="translate(1135.5 934.3) rotate(-90) scale(0.9863 1)" font-size="28.7" text-anchor="middle" class="t">Hemoglobin (g dl<tspan dy="-12.6" font-size="19">−1</tspan><tspan dy="12.6">)</tspan></text>
<text transform="translate(1096.4 701.4) scale(1.1400 1)" font-size="37" text-anchor="start" font-weight="700" stroke="#231f20" stroke-width="1.5" stroke-linejoin="round">h</text>
<polyline points="1629,1120.4 1629,919.75 1671,919.75 1671,1120.4" fill="none" stroke="#06559a" stroke-width="1"/>
<polyline points="1697.25,1120.4 1697.25,944.25 1739.25,944.25 1739.25,1120.4" fill="none" stroke="#069348" stroke-width="1"/>
<polyline points="1765.25,1120.4 1765.25,979.25 1807.25,979.25 1807.25,1120.4" fill="none" stroke="#961a1e" stroke-width="1"/>
<line x1="1650.25" y1="829.5" x2="1650.25" y2="1006.25" stroke="#06559a" stroke-width="1"/>
<line x1="1639" y1="829.5" x2="1661.5" y2="829.5" stroke="#06559a" stroke-width="1"/>
<line x1="1639" y1="1006.25" x2="1661.5" y2="1006.25" stroke="#06559a" stroke-width="1"/>
<line x1="1718" y1="867.5" x2="1718" y2="1017" stroke="#069348" stroke-width="1"/>
<line x1="1706.5" y1="867.5" x2="1729.5" y2="867.5" stroke="#069348" stroke-width="1"/>
<line x1="1706.5" y1="1017" x2="1729.5" y2="1017" stroke="#069348" stroke-width="1"/>
<line x1="1786.25" y1="917.25" x2="1786.25" y2="1037.75" stroke="#961a1e" stroke-width="1"/>
<line x1="1775" y1="917.25" x2="1797.5" y2="917.25" stroke="#961a1e" stroke-width="1"/>
<line x1="1775" y1="1037.75" x2="1797.5" y2="1037.75" stroke="#961a1e" stroke-width="1"/>
<line x1="1604.5" y1="741.25" x2="1604.5" y2="1120.9" stroke="#3a3a3a" stroke-width="1"/>
<line x1="1596.5" y1="1120.4" x2="1832" y2="1120.4" stroke="#3a3a3a" stroke-width="1"/>
<line x1="1596.5" y1="741.75" x2="1604.5" y2="741.75" stroke="#3a3a3a" stroke-width="1"/>
<line x1="1596.5" y1="836.5" x2="1604.5" y2="836.5" stroke="#3a3a3a" stroke-width="1"/>
<line x1="1596.5" y1="931" x2="1604.5" y2="931" stroke="#3a3a3a" stroke-width="1"/>
<line x1="1596.5" y1="1025.5" x2="1604.5" y2="1025.5" stroke="#3a3a3a" stroke-width="1"/>
<line x1="1596.5" y1="1120.4" x2="1604.5" y2="1120.4" stroke="#3a3a3a" stroke-width="1"/>
<line x1="1649.75" y1="1120.4" x2="1649.75" y2="1128.7" stroke="#3a3a3a" stroke-width="1"/>
<line x1="1717.75" y1="1120.4" x2="1717.75" y2="1128.7" stroke="#3a3a3a" stroke-width="1"/>
<line x1="1786" y1="1120.4" x2="1786" y2="1128.7" stroke="#3a3a3a" stroke-width="1"/>
<circle cx="1650.25" cy="762" r="5.5" fill="#06559a"/>
<circle cx="1650.25" cy="803.75" r="5.5" fill="#06559a"/>
<circle cx="1650.25" cy="838.5" r="5.5" fill="#06559a"/>
<circle cx="1650.25" cy="880.5" r="5.5" fill="#06559a"/>
<circle cx="1650.25" cy="923" r="5.5" fill="#06559a"/>
<circle cx="1661.5" cy="941.75" r="5.5" fill="#06559a"/>
<circle cx="1639.5" cy="948.25" r="5.5" fill="#06559a"/>
<circle cx="1661.5" cy="953.75" r="5.5" fill="#06559a"/>
<circle cx="1639.5" cy="996" r="5.5" fill="#06559a"/>
<circle cx="1661.5" cy="999.5" r="5.5" fill="#06559a"/>
<circle cx="1650.25" cy="1050.25" r="5.5" fill="#06559a"/>
<circle cx="1718" cy="806.25" r="5.5" fill="#069348"/>
<circle cx="1718" cy="823.75" r="5.5" fill="#069348"/>
<circle cx="1718" cy="918" r="5.5" fill="#069348"/>
<circle cx="1729" cy="932" r="5.5" fill="#069348"/>
<circle cx="1707.25" cy="940.75" r="5.5" fill="#069348"/>
<circle cx="1707.25" cy="953" r="5.5" fill="#069348"/>
<circle cx="1729" cy="953" r="5.5" fill="#069348"/>
<circle cx="1729" cy="984.5" r="5.5" fill="#069348"/>
<circle cx="1707.25" cy="987.5" r="5.5" fill="#069348"/>
<circle cx="1718" cy="1005" r="5.5" fill="#069348"/>
<circle cx="1718" cy="1063.25" r="5.5" fill="#069348"/>
<circle cx="1786.25" cy="832.5" r="5.5" fill="#961a1e"/>
<circle cx="1777.5" cy="943.5" r="5.5" fill="#961a1e"/>
<circle cx="1794.5" cy="944" r="5.5" fill="#961a1e"/>
<circle cx="1769" cy="973.75" r="5.5" fill="#961a1e"/>
<circle cx="1786.25" cy="979.25" r="5.5" fill="#961a1e"/>
<circle cx="1769" cy="1010.75" r="5.5" fill="#961a1e"/>
<circle cx="1804" cy="1012" r="5.5" fill="#961a1e"/>
<circle cx="1786.25" cy="1020.75" r="5.5" fill="#961a1e"/>
<circle cx="1804" cy="1026.25" r="5.5" fill="#961a1e"/>
<circle cx="1769" cy="1033.25" r="5.5" fill="#961a1e"/>
<text transform="translate(1585.5 750.05) scale(1.0659 1)" font-size="24.6" text-anchor="end">4,000</text>
<text transform="translate(1585.5 844.8) scale(1.0659 1)" font-size="24.6" text-anchor="end">3,000</text>
<text transform="translate(1585.5 939.3) scale(1.0659 1)" font-size="24.6" text-anchor="end">2,000</text>
<text transform="translate(1585.5 1033.8) scale(1.0171 1)" font-size="24.6" text-anchor="end">1,000</text>
<text transform="translate(1585.5 1128.7) scale(1.1105 1)" font-size="24.6" text-anchor="end">0</text>
<text transform="translate(1658.9 1153) rotate(-45)" font-size="28.7" text-anchor="end" class="t">UT</text>
<text transform="translate(1726.45 1149.3) rotate(-45) scale(0.9651 1)" font-size="28.7" text-anchor="end" class="t">h.19-m.28z</text>
<text transform="translate(1795.05 1147.8) rotate(-45) scale(0.9565 1)" font-size="28.7" text-anchor="end" class="t">m.uPAR-m.28z</text>
<text transform="translate(1675 712.15) scale(0.9731 1)" font-size="23.5" text-anchor="start"><tspan font-style="italic">P</tspan> = 0.09</text>
<line x1="1650.25" y1="720" x2="1786.5" y2="720" stroke="#231f20" stroke-width="1"/>
<text transform="translate(1710 765.4) scale(0.9533 1)" font-size="23.5" text-anchor="start"><tspan font-style="italic">P</tspan> = 0.26</text>
<line x1="1718.5" y1="772.25" x2="1786.5" y2="772.25" stroke="#231f20" stroke-width="1"/>
<text transform="translate(1495.75 930.55) rotate(-90) scale(1.0101 1)" font-size="28.7" text-anchor="middle" class="t">Platelets (1,000/µl)</text>
<text transform="translate(1467.9 701.9) scale(1.1400 1)" font-size="37" text-anchor="start" font-weight="700" stroke="#231f20" stroke-width="1.5" stroke-linejoin="round">i</text>
<polyline points="193.25,1752.3 193.25,1606.5 231.5,1606.5 231.5,1752.3" fill="none" stroke="#06559a" stroke-width="1"/>
<polyline points="254.5,1752.3 254.5,1634.25 292.5,1634.25 292.5,1752.3" fill="none" stroke="#069348" stroke-width="1"/>
<polyline points="316,1752.3 316,1626.75 354.25,1626.75 354.25,1752.3" fill="none" stroke="#961a1e" stroke-width="1"/>
<line x1="212.38" y1="1530.5" x2="212.38" y2="1679" stroke="#06559a" stroke-width="1"/>
<line x1="202.25" y1="1530.5" x2="222.5" y2="1530.5" stroke="#06559a" stroke-width="1"/>
<line x1="202.25" y1="1679" x2="222.5" y2="1679" stroke="#06559a" stroke-width="1"/>
<line x1="273.62" y1="1550.25" x2="273.62" y2="1715.25" stroke="#069348" stroke-width="1"/>
<line x1="263.5" y1="1550.25" x2="283.75" y2="1550.25" stroke="#069348" stroke-width="1"/>
<line x1="263.5" y1="1715.25" x2="283.75" y2="1715.25" stroke="#069348" stroke-width="1"/>
<line x1="335.12" y1="1555.75" x2="335.12" y2="1694.25" stroke="#961a1e" stroke-width="1"/>
<line x1="325" y1="1555.75" x2="345.25" y2="1555.75" stroke="#961a1e" stroke-width="1"/>
<line x1="325" y1="1694.25" x2="345.25" y2="1694.25" stroke="#961a1e" stroke-width="1"/>
<line x1="171.5" y1="1374.5" x2="171.5" y2="1752.8" stroke="#3a3a3a" stroke-width="1"/>
<line x1="163.25" y1="1752.3" x2="375.75" y2="1752.3" stroke="#3a3a3a" stroke-width="1"/>
<line x1="163.25" y1="1375" x2="171.5" y2="1375" stroke="#3a3a3a" stroke-width="1"/>
<line x1="163.25" y1="1469.5" x2="171.5" y2="1469.5" stroke="#3a3a3a" stroke-width="1"/>
<line x1="163.25" y1="1563.75" x2="171.5" y2="1563.75" stroke="#3a3a3a" stroke-width="1"/>
<line x1="163.25" y1="1658" x2="171.5" y2="1658" stroke="#3a3a3a" stroke-width="1"/>
<line x1="163.25" y1="1752.3" x2="171.5" y2="1752.3" stroke="#3a3a3a" stroke-width="1"/>
<line x1="212.25" y1="1752.3" x2="212.25" y2="1760.6" stroke="#3a3a3a" stroke-width="1"/>
<line x1="273.5" y1="1752.3" x2="273.5" y2="1760.6" stroke="#3a3a3a" stroke-width="1"/>
<line x1="335" y1="1752.3" x2="335" y2="1760.6" stroke="#3a3a3a" stroke-width="1"/>
<circle cx="212.5" cy="1477" r="5.5" fill="#06559a"/>
<circle cx="212.5" cy="1488" r="5.5" fill="#06559a"/>
<circle cx="212.5" cy="1514.25" r="5.5" fill="#06559a"/>
<circle cx="212.5" cy="1617" r="5.5" fill="#06559a"/>
<circle cx="196.75" cy="1635.5" r="5.5" fill="#06559a"/>
<circle cx="228" cy="1639" r="5.5" fill="#06559a"/>
<circle cx="212.5" cy="1642.5" r="5.5" fill="#06559a"/>
<circle cx="204.5" cy="1645" r="5.5" fill="#06559a"/>
<circle cx="220.25" cy="1645.75" r="5.5" fill="#06559a"/>
<circle cx="212.5" cy="1665.5" r="5.5" fill="#06559a"/>
<circle cx="212.5" cy="1686.25" r="5.5" fill="#06559a"/>
<circle cx="273.75" cy="1427.25" r="5.5" fill="#069348"/>
<circle cx="273.75" cy="1558.25" r="5.5" fill="#069348"/>
<circle cx="265.75" cy="1608" r="5.5" fill="#069348"/>
<circle cx="281.5" cy="1615" r="5.5" fill="#069348"/>
<circle cx="273.75" cy="1626.5" r="5.5" fill="#069348"/>
<circle cx="258.25" cy="1671" r="5.5" fill="#069348"/>
<circle cx="273.75" cy="1671" r="5.5" fill="#069348"/>
<circle cx="289.5" cy="1672.75" r="5.5" fill="#069348"/>
<circle cx="273.75" cy="1696" r="5.5" fill="#069348"/>
<circle cx="258.25" cy="1707" r="5.5" fill="#069348"/>
<circle cx="289.5" cy="1704.25" r="5.5" fill="#069348"/>
<circle cx="335.25" cy="1495.75" r="5.5" fill="#961a1e"/>
<circle cx="350.75" cy="1563.25" r="5.5" fill="#961a1e"/>
<circle cx="335.25" cy="1572" r="5.5" fill="#961a1e"/>
<circle cx="327.25" cy="1600.75" r="5.5" fill="#961a1e"/>
<circle cx="343" cy="1600" r="5.5" fill="#961a1e"/>
<circle cx="319.5" cy="1667.5" r="5.5" fill="#961a1e"/>
<circle cx="350.75" cy="1667.5" r="5.5" fill="#961a1e"/>
<circle cx="335.25" cy="1674.75" r="5.5" fill="#961a1e"/>
<circle cx="327.25" cy="1704.75" r="5.5" fill="#961a1e"/>
<circle cx="343" cy="1703" r="5.5" fill="#961a1e"/>
<text transform="translate(152.75 1383.3) scale(1.0082 1)" font-size="24.6" text-anchor="end">8</text>
<text transform="translate(152.75 1477.8) scale(1.0082 1)" font-size="24.6" text-anchor="end">6</text>
<text transform="translate(152.75 1572.05) scale(1.0082 1)" font-size="24.6" text-anchor="end">4</text>
<text transform="translate(152.75 1666.3) scale(1.0082 1)" font-size="24.6" text-anchor="end">2</text>
<text transform="translate(152.75 1760.6) scale(1.1105 1)" font-size="24.6" text-anchor="end">0</text>
<text transform="translate(220.9 1784.4) rotate(-45)" font-size="28.7" text-anchor="end" class="t">UT</text>
<text transform="translate(282.25 1780.6) rotate(-45) scale(0.9651 1)" font-size="28.7" text-anchor="end" class="t">h.19-m.28z</text>
<text transform="translate(343.15 1779.8) rotate(-45) scale(0.9565 1)" font-size="28.7" text-anchor="end" class="t">m.uPAR-m.28z</text>
<text transform="translate(234 1357.9) scale(0.9533 1)" font-size="23.5" text-anchor="start"><tspan font-style="italic">P</tspan> = 0.53</text>
<line x1="215.5" y1="1364.75" x2="338" y2="1364.75" stroke="#231f20" stroke-width="1"/>
<text transform="translate(262.75 1397.9) scale(0.9448 1)" font-size="23.5" text-anchor="start"><tspan font-style="italic">P</tspan> = 0.82</text>
<line x1="273.75" y1="1405.5" x2="335.5" y2="1405.5" stroke="#231f20" stroke-width="1"/>
<text transform="translate(113.75 1562.43) rotate(-90) scale(1.0193 1)" font-size="28.7" text-anchor="middle" class="t">Lymphocytes (1,000/µl)</text>
<text transform="translate(14.75 1350.65) scale(1.1000 1)" font-size="37" text-anchor="start" font-weight="700" stroke="#231f20" stroke-width="1.5" stroke-linejoin="round">j</text>
<polyline points="582,1752.3 582,1680.5 624.5,1680.5 624.5,1752.3" fill="none" stroke="#06559a" stroke-width="1"/>
<polyline points="651,1752.3 651,1684 693.25,1684 693.25,1752.3" fill="none" stroke="#069348" stroke-width="1"/>
<polyline points="719.75,1752.3 719.75,1680.5 762.25,1680.5 762.25,1752.3" fill="none" stroke="#961a1e" stroke-width="1"/>
<line x1="603.25" y1="1644.75" x2="603.25" y2="1712.75" stroke="#06559a" stroke-width="1"/>
<line x1="592" y1="1644.75" x2="614.5" y2="1644.75" stroke="#06559a" stroke-width="1"/>
<line x1="592" y1="1712.75" x2="614.5" y2="1712.75" stroke="#06559a" stroke-width="1"/>
<line x1="672.38" y1="1615.5" x2="672.38" y2="1749.25" stroke="#069348" stroke-width="1"/>
<line x1="661" y1="1615.5" x2="683.75" y2="1615.5" stroke="#069348" stroke-width="1"/>
<line x1="661" y1="1749.25" x2="683.75" y2="1749.25" stroke="#069348" stroke-width="1"/>
<line x1="741" y1="1646.75" x2="741" y2="1710.5" stroke="#961a1e" stroke-width="1"/>
<line x1="729.5" y1="1646.75" x2="752.5" y2="1646.75" stroke="#961a1e" stroke-width="1"/>
<line x1="729.5" y1="1710.5" x2="752.5" y2="1710.5" stroke="#961a1e" stroke-width="1"/>
<line x1="557.25" y1="1376.75" x2="557.25" y2="1752.8" stroke="#3a3a3a" stroke-width="1"/>
<line x1="549.25" y1="1752.3" x2="787" y2="1752.3" stroke="#3a3a3a" stroke-width="1"/>
<line x1="549.25" y1="1377.25" x2="557.25" y2="1377.25" stroke="#3a3a3a" stroke-width="1"/>
<line x1="549.25" y1="1502" x2="557.25" y2="1502" stroke="#3a3a3a" stroke-width="1"/>
<line x1="549.25" y1="1627" x2="557.25" y2="1627" stroke="#3a3a3a" stroke-width="1"/>
<line x1="549.25" y1="1752.3" x2="557.25" y2="1752.3" stroke="#3a3a3a" stroke-width="1"/>
<line x1="603" y1="1752.3" x2="603" y2="1760.6" stroke="#3a3a3a" stroke-width="1"/>
<line x1="672" y1="1752.3" x2="672" y2="1760.6" stroke="#3a3a3a" stroke-width="1"/>
<line x1="740.5" y1="1752.3" x2="740.5" y2="1760.6" stroke="#3a3a3a" stroke-width="1"/>
<circle cx="592.5" cy="1632" r="5.5" fill="#06559a"/>
<circle cx="614.25" cy="1639.5" r="5.5" fill="#06559a"/>
<circle cx="592.5" cy="1645" r="5.5" fill="#06559a"/>
<circle cx="592.5" cy="1660" r="5.5" fill="#06559a"/>
<circle cx="614.25" cy="1657.5" r="5.5" fill="#06559a"/>
<circle cx="614.25" cy="1682" r="5.5" fill="#06559a"/>
<circle cx="592.5" cy="1689.5" r="5.5" fill="#06559a"/>
<circle cx="614.25" cy="1695" r="5.5" fill="#06559a"/>
<circle cx="603.25" cy="1712.5" r="5.5" fill="#06559a"/>
<circle cx="592.5" cy="1727.5" r="5.5" fill="#06559a"/>
<circle cx="614.25" cy="1725" r="5.5" fill="#06559a"/>
<circle cx="672.25" cy="1497" r="5.5" fill="#069348"/>
<circle cx="672.25" cy="1645" r="5.5" fill="#069348"/>
<circle cx="663.5" cy="1672.5" r="5.5" fill="#069348"/>
<circle cx="681" cy="1674.25" r="5.5" fill="#069348"/>
<circle cx="672.25" cy="1697" r="5.5" fill="#069348"/>
<circle cx="654.75" cy="1710" r="5.5" fill="#069348"/>
<circle cx="672.25" cy="1710" r="5.5" fill="#069348"/>
<circle cx="690" cy="1712" r="5.5" fill="#069348"/>
<circle cx="672.25" cy="1723" r="5.5" fill="#069348"/>
<circle cx="690" cy="1727.5" r="5.5" fill="#069348"/>
<circle cx="654.75" cy="1735.5" r="5.5" fill="#069348"/>
<circle cx="732.25" cy="1632.5" r="5.5" fill="#961a1e"/>
<circle cx="749.5" cy="1630" r="5.5" fill="#961a1e"/>
<circle cx="759.25" cy="1665" r="5.5" fill="#961a1e"/>
<circle cx="741" cy="1672.5" r="5.5" fill="#961a1e"/>
<circle cx="723.5" cy="1677" r="5.5" fill="#961a1e"/>
<circle cx="759.25" cy="1677" r="5.5" fill="#961a1e"/>
<circle cx="759.25" cy="1689.5" r="5.5" fill="#961a1e"/>
<circle cx="741" cy="1700" r="5.5" fill="#961a1e"/>
<circle cx="749.5" cy="1720" r="5.5" fill="#961a1e"/>
<circle cx="732.25" cy="1725" r="5.5" fill="#961a1e"/>
<text transform="translate(538.5 1385.55) scale(0.8713 1)" font-size="24.6" text-anchor="end">1.5</text>
<text transform="translate(538.5 1510.3) scale(0.9122 1)" font-size="24.6" text-anchor="end">1.0</text>
<text transform="translate(538.5 1635.3)" font-size="24.6" text-anchor="end">0.5</text>
<text transform="translate(538.5 1760.6) scale(1.1105 1)" font-size="24.6" text-anchor="end">0</text>
<text transform="translate(611.8 1784.4) rotate(-45)" font-size="28.7" text-anchor="end" class="t">UT</text>
<text transform="translate(681.55 1780.6) rotate(-45) scale(0.9651 1)" font-size="28.7" text-anchor="end" class="t">h.19-m.28z</text>
<text transform="translate(749.25 1779.8) rotate(-45) scale(0.9565 1)" font-size="28.7" text-anchor="end" class="t">m.uPAR-m.28z</text>
<text transform="translate(630.25 1389.15) scale(0.9533 1)" font-size="23.5" text-anchor="start"><tspan font-style="italic">P</tspan> = 0.99</text>
<line x1="603.5" y1="1399" x2="741.25" y2="1399" stroke="#231f20" stroke-width="1"/>
<text transform="translate(664 1444.15) scale(0.9590 1)" font-size="23.5" text-anchor="start"><tspan font-style="italic">P</tspan> = 0.89</text>
<line x1="672.25" y1="1450.75" x2="741.25" y2="1450.75" stroke="#231f20" stroke-width="1"/>
<text transform="translate(480.5 1563.05) rotate(-90) scale(1.0083 1)" font-size="28.7" text-anchor="middle" class="t">Monocytes (1,000/µl)</text>
<text transform="translate(458.15 1351.4) scale(1.1400 1)" font-size="37" text-anchor="start" font-weight="700" stroke="#231f20" stroke-width="1.5" stroke-linejoin="round">k</text>
<polyline points="958,1752.5 958,1633.75 999.75,1633.75 999.75,1752.5" fill="none" stroke="#06559a" stroke-width="1"/>
<polyline points="1026.25,1752.5 1026.25,1638.25 1067.75,1638.25 1067.75,1752.5" fill="none" stroke="#069348" stroke-width="1"/>
<polyline points="1094,1752.5 1094,1624.5 1135.75,1624.5 1135.75,1752.5" fill="none" stroke="#961a1e" stroke-width="1"/>
<line x1="979" y1="1594.5" x2="979" y2="1669" stroke="#06559a" stroke-width="1"/>
<line x1="967.75" y1="1594.5" x2="990.25" y2="1594.5" stroke="#06559a" stroke-width="1"/>
<line x1="967.75" y1="1669" x2="990.25" y2="1669" stroke="#06559a" stroke-width="1"/>
<line x1="1047" y1="1568.25" x2="1047" y2="1704.25" stroke="#069348" stroke-width="1"/>
<line x1="1035.5" y1="1568.25" x2="1058.5" y2="1568.25" stroke="#069348" stroke-width="1"/>
<line x1="1035.5" y1="1704.25" x2="1058.5" y2="1704.25" stroke="#069348" stroke-width="1"/>
<line x1="1115.12" y1="1579.75" x2="1115.12" y2="1665.5" stroke="#961a1e" stroke-width="1"/>
<line x1="1104" y1="1579.75" x2="1126.25" y2="1579.75" stroke="#961a1e" stroke-width="1"/>
<line x1="1104" y1="1665.5" x2="1126.25" y2="1665.5" stroke="#961a1e" stroke-width="1"/>
<line x1="933.5" y1="1379" x2="933.5" y2="1753" stroke="#3a3a3a" stroke-width="1"/>
<line x1="925.25" y1="1752.5" x2="1160.25" y2="1752.5" stroke="#3a3a3a" stroke-width="1"/>
<line x1="925.25" y1="1379.5" x2="933.5" y2="1379.5" stroke="#3a3a3a" stroke-width="1"/>
<line x1="925.25" y1="1472.5" x2="933.5" y2="1472.5" stroke="#3a3a3a" stroke-width="1"/>
<line x1="925.25" y1="1565.75" x2="933.5" y2="1565.75" stroke="#3a3a3a" stroke-width="1"/>
<line x1="925.25" y1="1659" x2="933.5" y2="1659" stroke="#3a3a3a" stroke-width="1"/>
<line x1="925.25" y1="1752.5" x2="933.5" y2="1752.5" stroke="#3a3a3a" stroke-width="1"/>
<line x1="978.75" y1="1752.5" x2="978.75" y2="1760.8" stroke="#3a3a3a" stroke-width="1"/>
<line x1="1046.75" y1="1752.5" x2="1046.75" y2="1760.8" stroke="#3a3a3a" stroke-width="1"/>
<line x1="1114.75" y1="1752.5" x2="1114.75" y2="1760.8" stroke="#3a3a3a" stroke-width="1"/>
<circle cx="970.5" cy="1576.25" r="5.5" fill="#06559a"/>
<circle cx="987.5" cy="1576.25" r="5.5" fill="#06559a"/>
<circle cx="987.5" cy="1601.25" r="5.5" fill="#06559a"/>
<circle cx="970.5" cy="1609.25" r="5.5" fill="#06559a"/>
<circle cx="961.75" cy="1632" r="5.5" fill="#06559a"/>
<circle cx="996.5" cy="1640.5" r="5.5" fill="#06559a"/>
<circle cx="961.75" cy="1650.5" r="5.5" fill="#06559a"/>
<circle cx="979.25" cy="1650" r="5.5" fill="#06559a"/>
<circle cx="996.5" cy="1655" r="5.5" fill="#06559a"/>
<circle cx="979.25" cy="1669.25" r="5.5" fill="#06559a"/>
<circle cx="979.25" cy="1689.5" r="5.5" fill="#06559a"/>
<circle cx="1047.25" cy="1482.75" r="5.5" fill="#069348"/>
<circle cx="1047.25" cy="1556.25" r="5.5" fill="#069348"/>
<circle cx="1041.5" cy="1625.5" r="5.5" fill="#069348"/>
<circle cx="1052.5" cy="1627.25" r="5.5" fill="#069348"/>
<circle cx="1047.25" cy="1652.5" r="5.5" fill="#069348"/>
<circle cx="1030" cy="1676" r="5.5" fill="#069348"/>
<circle cx="1041.5" cy="1678.75" r="5.5" fill="#069348"/>
<circle cx="1052.5" cy="1678.5" r="5.5" fill="#069348"/>
<circle cx="1064.25" cy="1686.75" r="5.5" fill="#069348"/>
<circle cx="1047.25" cy="1699.5" r="5.5" fill="#069348"/>
<circle cx="1115" cy="1556.25" r="5.5" fill="#961a1e"/>
<circle cx="1115" cy="1567.5" r="5.5" fill="#961a1e"/>
<circle cx="1104.25" cy="1591.75" r="5.5" fill="#961a1e"/>
<circle cx="1125.75" cy="1598" r="5.5" fill="#961a1e"/>
<circle cx="1115" cy="1622" r="5.5" fill="#961a1e"/>
<circle cx="1104.25" cy="1637" r="5.5" fill="#961a1e"/>
<circle cx="1125.75" cy="1647" r="5.5" fill="#961a1e"/>
<circle cx="1104.25" cy="1659.5" r="5.5" fill="#961a1e"/>
<circle cx="1125.75" cy="1665" r="5.5" fill="#961a1e"/>
<circle cx="1115" cy="1683.25" r="5.5" fill="#961a1e"/>
<text transform="translate(914.5 1387.8) scale(1.0082 1)" font-size="24.6" text-anchor="end">4</text>
<text transform="translate(914.5 1480.8) scale(1.0082 1)" font-size="24.6" text-anchor="end">3</text>
<text transform="translate(914.5 1574.05) scale(1.0082 1)" font-size="24.6" text-anchor="end">2</text>
<text transform="translate(914.5 1667.3) scale(0.7890 1)" font-size="24.6" text-anchor="end">1</text>
<text transform="translate(914.5 1760.8) scale(1.1105 1)" font-size="24.6" text-anchor="end">0</text>
<text transform="translate(988.5 1784.4) rotate(-45)" font-size="28.7" text-anchor="end" class="t">UT</text>
<text transform="translate(1057.5 1780.6) rotate(-45) scale(0.9651 1)" font-size="28.7" text-anchor="end" class="t">h.19-m.28z</text>
<text transform="translate(1125.95 1779.8) rotate(-45) scale(0.9565 1)" font-size="28.7" text-anchor="end" class="t">m.uPAR-m.28z</text>
<text transform="translate(1007.25 1394.15) scale(0.9023 1)" font-size="23.5" text-anchor="start"><tspan font-style="italic">P</tspan> = 0.61</text>
<line x1="979.25" y1="1401.25" x2="1115.5" y2="1401.25" stroke="#231f20" stroke-width="1"/>
<text transform="translate(1038 1445.65) scale(0.9731 1)" font-size="23.5" text-anchor="start"><tspan font-style="italic">P</tspan> = 0.60</text>
<line x1="1047.25" y1="1452.25" x2="1115.5" y2="1452.25" stroke="#231f20" stroke-width="1"/>
<text transform="translate(876.25 1565.05) rotate(-90) scale(1.0177 1)" font-size="28.7" text-anchor="middle" class="t">Neutrophils (1,000/µl)</text>
<text transform="translate(854.4 1351.4) scale(1.1400 1)" font-size="37" text-anchor="start" font-weight="700" stroke="#231f20" stroke-width="1.5" stroke-linejoin="round">l</text>
<polyline points="1364.75,1752 1364.75,1649.25 1405.75,1649.25 1405.75,1752" fill="none" stroke="#06559a" stroke-width="1"/>
<polyline points="1431.25,1752 1431.25,1658.25 1472.25,1658.25 1472.25,1752" fill="none" stroke="#069348" stroke-width="1"/>
<polyline points="1497.75,1752 1497.75,1686.75 1539.25,1686.75 1539.25,1752" fill="none" stroke="#961a1e" stroke-width="1"/>
<line x1="1385.5" y1="1596.5" x2="1385.5" y2="1698.5" stroke="#06559a" stroke-width="1"/>
<line x1="1374.5" y1="1596.5" x2="1396.5" y2="1596.5" stroke="#06559a" stroke-width="1"/>
<line x1="1374.5" y1="1698.5" x2="1396.5" y2="1698.5" stroke="#06559a" stroke-width="1"/>
<line x1="1451.75" y1="1571.25" x2="1451.75" y2="1741.25" stroke="#069348" stroke-width="1"/>
<line x1="1440.75" y1="1571.25" x2="1462.75" y2="1571.25" stroke="#069348" stroke-width="1"/>
<line x1="1440.75" y1="1741.25" x2="1462.75" y2="1741.25" stroke="#069348" stroke-width="1"/>
<line x1="1518.38" y1="1650.5" x2="1518.38" y2="1718.25" stroke="#961a1e" stroke-width="1"/>
<line x1="1507.25" y1="1650.5" x2="1529.5" y2="1650.5" stroke="#961a1e" stroke-width="1"/>
<line x1="1507.25" y1="1718.25" x2="1529.5" y2="1718.25" stroke="#961a1e" stroke-width="1"/>
<line x1="1341" y1="1380.25" x2="1341" y2="1752.5" stroke="#3a3a3a" stroke-width="1"/>
<line x1="1333" y1="1752" x2="1562.5" y2="1752" stroke="#3a3a3a" stroke-width="1"/>
<line x1="1333" y1="1380.75" x2="1341" y2="1380.75" stroke="#3a3a3a" stroke-width="1"/>
<line x1="1333" y1="1473.25" x2="1341" y2="1473.25" stroke="#3a3a3a" stroke-width="1"/>
<line x1="1333" y1="1566.25" x2="1341" y2="1566.25" stroke="#3a3a3a" stroke-width="1"/>
<line x1="1333" y1="1659.25" x2="1341" y2="1659.25" stroke="#3a3a3a" stroke-width="1"/>
<line x1="1333" y1="1752" x2="1341" y2="1752" stroke="#3a3a3a" stroke-width="1"/>
<line x1="1385.25" y1="1752" x2="1385.25" y2="1760.3" stroke="#3a3a3a" stroke-width="1"/>
<line x1="1451.75" y1="1752" x2="1451.75" y2="1760.3" stroke="#3a3a3a" stroke-width="1"/>
<line x1="1518.5" y1="1752" x2="1518.5" y2="1760.3" stroke="#3a3a3a" stroke-width="1"/>
<circle cx="1385.5" cy="1557.25" r="5.5" fill="#06559a"/>
<circle cx="1374.75" cy="1599.25" r="5.5" fill="#06559a"/>
<circle cx="1396.5" cy="1599.25" r="5.5" fill="#06559a"/>
<circle cx="1385.5" cy="1613" r="5.5" fill="#06559a"/>
<circle cx="1385.5" cy="1636.25" r="5.5" fill="#06559a"/>
<circle cx="1385.5" cy="1655" r="5.5" fill="#06559a"/>
<circle cx="1374.75" cy="1668.75" r="5.5" fill="#06559a"/>
<circle cx="1396.5" cy="1678.25" r="5.5" fill="#06559a"/>
<circle cx="1374.75" cy="1696.5" r="5.5" fill="#06559a"/>
<circle cx="1396.5" cy="1701.75" r="5.5" fill="#06559a"/>
<circle cx="1385.5" cy="1719.5" r="5.5" fill="#06559a"/>
<circle cx="1452" cy="1464.75" r="5.5" fill="#069348"/>
<circle cx="1452" cy="1520.75" r="5.5" fill="#069348"/>
<circle cx="1452" cy="1640.75" r="5.5" fill="#069348"/>
<circle cx="1443.5" cy="1678.25" r="5.5" fill="#069348"/>
<circle cx="1460.5" cy="1682.5" r="5.5" fill="#069348"/>
<circle cx="1452" cy="1692" r="5.5" fill="#069348"/>
<circle cx="1443.5" cy="1705" r="5.5" fill="#069348"/>
<circle cx="1452" cy="1705" r="5.5" fill="#069348"/>
<circle cx="1460.5" cy="1705" r="5.5" fill="#069348"/>
<circle cx="1434.75" cy="1710.5" r="5.5" fill="#069348"/>
<circle cx="1469" cy="1715.5" r="5.5" fill="#069348"/>
<circle cx="1518.75" cy="1622" r="5.5" fill="#961a1e"/>
<circle cx="1518.75" cy="1636.25" r="5.5" fill="#961a1e"/>
<circle cx="1518.75" cy="1664.25" r="5.5" fill="#961a1e"/>
<circle cx="1535.5" cy="1682.5" r="5.5" fill="#961a1e"/>
<circle cx="1501.75" cy="1692" r="5.5" fill="#961a1e"/>
<circle cx="1535.5" cy="1696.75" r="5.5" fill="#961a1e"/>
<circle cx="1501.75" cy="1705.5" r="5.5" fill="#961a1e"/>
<circle cx="1518.75" cy="1705.5" r="5.5" fill="#961a1e"/>
<circle cx="1535.5" cy="1716.25" r="5.5" fill="#961a1e"/>
<circle cx="1501.75" cy="1724.5" r="5.5" fill="#961a1e"/>
<text transform="translate(1321.5 1389.05)" font-size="24.6" text-anchor="end">0.8</text>
<text transform="translate(1321.5 1481.55)" font-size="24.6" text-anchor="end">0.6</text>
<text transform="translate(1321.5 1574.55)" font-size="24.6" text-anchor="end">0.4</text>
<text transform="translate(1321.5 1667.55)" font-size="24.6" text-anchor="end">0.2</text>
<text transform="translate(1321.5 1760.3) scale(1.1105 1)" font-size="24.6" text-anchor="end">0</text>
<text transform="translate(1393.7 1784.4) rotate(-45)" font-size="28.7" text-anchor="end" class="t">UT</text>
<text transform="translate(1462.5 1780.6) rotate(-45) scale(0.9651 1)" font-size="28.7" text-anchor="end" class="t">h.19-m.28z</text>
<text transform="translate(1531.25 1779.8) rotate(-45) scale(0.9565 1)" font-size="28.7" text-anchor="end" class="t">m.uPAR-m.28z</text>
<text transform="translate(1407.25 1391.65) scale(0.9391 1)" font-size="23.5" text-anchor="start"><tspan font-style="italic">P</tspan> = 0.07</text>
<line x1="1382" y1="1398.75" x2="1515.5" y2="1398.75" stroke="#231f20" stroke-width="1"/>
<text transform="translate(1443.25 1440.4) scale(0.9533 1)" font-size="23.5" text-anchor="start"><tspan font-style="italic">P</tspan> = 0.34</text>
<line x1="1451.75" y1="1447.5" x2="1519" y2="1447.5" stroke="#231f20" stroke-width="1"/>
<text transform="translate(1263.75 1566.18) rotate(-90) scale(1.0017 1)" font-size="28.7" text-anchor="middle" class="t">Eosinophils (1,000/µl)</text>
<text transform="translate(1241.9 1351.4) scale(1.0700 1)" font-size="37" text-anchor="start" font-weight="700" stroke="#231f20" stroke-width="1.5" stroke-linejoin="round">m</text>
</svg>
</body>
</html>
